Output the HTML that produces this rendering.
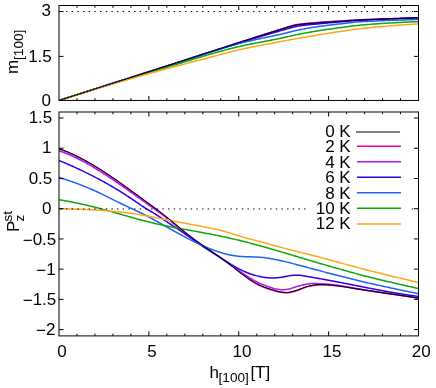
<!DOCTYPE html>
<html><head><meta charset="utf-8"><title>plot</title>
<style>
html,body{margin:0;padding:0;background:#fff;}
svg{display:block;}
body{will-change:transform;}
svg{filter:opacity(0.9999);}
text{font-family:"Liberation Sans",sans-serif;fill:#000;}
</style></head><body>
<svg width="436" height="388" viewBox="0 0 436 388">
<rect width="436" height="388" fill="#fff"/>

<defs><clipPath id="ct"><rect x="59.0" y="5.5" width="359.5" height="94.95"/></clipPath>
<clipPath id="cb"><rect x="59.0" y="112.0" width="359.5" height="223.89999999999998"/></clipPath></defs>
<g clip-path="url(#ct)" fill="none" stroke-linejoin="round">
<path d="M59.0,100.45 L60.0,100.13 L61.0,99.81 L62.0,99.49 L63.0,99.17 L64.0,98.85 L65.0,98.53 L66.0,98.22 L67.0,97.90 L68.0,97.58 L69.0,97.26 L70.0,96.94 L71.0,96.62 L72.0,96.30 L73.0,95.98 L74.0,95.66 L75.0,95.34 L76.0,95.02 L77.0,94.70 L78.0,94.38 L79.0,94.06 L80.0,93.74 L81.0,93.43 L82.0,93.11 L83.0,92.79 L84.0,92.47 L85.0,92.15 L86.0,91.83 L87.0,91.51 L88.0,91.19 L89.0,90.87 L90.0,90.55 L91.0,90.23 L92.0,89.91 L93.0,89.59 L94.0,89.27 L95.0,88.95 L96.0,88.63 L97.0,88.31 L98.0,87.99 L99.0,87.67 L100.0,87.35 L101.0,87.03 L102.0,86.71 L103.0,86.39 L104.0,86.07 L105.0,85.75 L106.0,85.43 L107.0,85.11 L108.0,84.79 L109.0,84.47 L110.0,84.15 L111.0,83.83 L112.0,83.51 L113.0,83.19 L114.0,82.87 L115.0,82.55 L116.0,82.23 L117.0,81.91 L118.0,81.59 L119.0,81.27 L120.0,80.95 L121.0,80.63 L122.0,80.31 L123.0,79.99 L124.0,79.67 L125.0,79.35 L126.0,79.03 L127.0,78.71 L128.0,78.39 L129.0,78.07 L130.0,77.75 L131.0,77.43 L132.0,77.11 L133.0,76.79 L134.0,76.47 L135.0,76.15 L136.0,75.83 L137.0,75.51 L138.0,75.19 L139.0,74.87 L140.0,74.54 L141.0,74.22 L142.0,73.90 L143.0,73.58 L144.0,73.26 L145.0,72.94 L146.0,72.62 L147.0,72.30 L148.0,71.98 L149.0,71.66 L150.0,71.34 L151.0,71.02 L152.0,70.70 L153.0,70.38 L154.0,70.06 L155.0,69.73 L156.0,69.41 L157.0,69.09 L158.0,68.77 L159.0,68.45 L160.0,68.13 L161.0,67.81 L162.0,67.49 L163.0,67.17 L164.0,66.85 L165.0,66.52 L166.0,66.20 L167.0,65.88 L168.0,65.56 L169.0,65.24 L170.0,64.91 L171.0,64.59 L172.0,64.27 L173.0,63.95 L174.0,63.63 L175.0,63.30 L176.0,62.98 L177.0,62.66 L178.0,62.33 L179.0,62.01 L180.0,61.69 L181.0,61.37 L182.0,61.04 L183.0,60.72 L184.0,60.40 L185.0,60.07 L186.0,59.75 L187.0,59.43 L188.0,59.10 L189.0,58.78 L190.0,58.45 L191.0,58.13 L192.0,57.81 L193.0,57.48 L194.0,57.16 L195.0,56.84 L196.0,56.51 L197.0,56.19 L198.0,55.86 L199.0,55.54 L200.0,55.22 L201.0,54.89 L202.0,54.57 L203.0,54.24 L204.0,53.92 L205.0,53.60 L206.0,53.27 L207.0,52.95 L208.0,52.62 L209.0,52.30 L210.0,51.98 L211.0,51.65 L212.0,51.33 L213.0,51.00 L214.0,50.68 L215.0,50.36 L216.0,50.03 L217.0,49.71 L218.0,49.39 L219.0,49.06 L220.0,48.74 L221.0,48.41 L222.0,48.09 L223.0,47.77 L224.0,47.44 L225.0,47.12 L226.0,46.80 L227.0,46.47 L228.0,46.15 L229.0,45.83 L230.0,45.50 L231.0,45.18 L232.0,44.86 L233.0,44.53 L234.0,44.21 L235.0,43.89 L236.0,43.57 L237.0,43.24 L238.0,42.92 L239.0,42.60 L240.0,42.28 L241.0,41.95 L242.0,41.63 L243.0,41.31 L244.0,40.99 L245.0,40.67 L246.0,40.34 L247.0,40.02 L248.0,39.70 L249.0,39.38 L250.0,39.06 L251.0,38.74 L252.0,38.42 L253.0,38.10 L254.0,37.78 L255.0,37.46 L256.0,37.14 L257.0,36.82 L258.0,36.50 L259.0,36.18 L260.0,35.86 L261.0,35.54 L262.0,35.22 L263.0,34.90 L264.0,34.58 L265.0,34.26 L266.0,33.94 L267.0,33.62 L268.0,33.30 L269.0,32.99 L270.0,32.67 L271.0,32.35 L272.0,32.03 L273.0,31.72 L274.0,31.40 L275.0,31.08 L276.0,30.76 L277.0,30.45 L278.0,30.13 L279.0,29.82 L280.0,29.50 L281.0,29.18 L282.0,28.87 L283.0,28.55 L284.0,28.24 L285.0,27.93 L286.0,27.62 L287.0,27.31 L288.0,27.00 L289.0,26.69 L290.0,26.37 L291.0,26.07 L292.0,25.77 L293.0,25.50 L294.0,25.25 L295.0,25.01 L296.0,24.79 L297.0,24.60 L298.0,24.43 L299.0,24.28 L300.0,24.14 L301.0,24.02 L302.0,23.90 L303.0,23.79 L304.0,23.68 L305.0,23.58 L306.0,23.48 L307.0,23.38 L308.0,23.28 L309.0,23.19 L310.0,23.10 L311.0,23.01 L312.0,22.93 L313.0,22.85 L314.0,22.76 L315.0,22.68 L316.0,22.61 L317.0,22.53 L318.0,22.45 L319.0,22.38 L320.0,22.30 L321.0,22.23 L322.0,22.15 L323.0,22.08 L324.0,22.01 L325.0,21.94 L326.0,21.88 L327.0,21.81 L328.0,21.75 L329.0,21.68 L330.0,21.62 L331.0,21.55 L332.0,21.49 L333.0,21.43 L334.0,21.37 L335.0,21.31 L336.0,21.25 L337.0,21.19 L338.0,21.12 L339.0,21.06 L340.0,21.00 L341.0,20.94 L342.0,20.87 L343.0,20.81 L344.0,20.74 L345.0,20.68 L346.0,20.61 L347.0,20.55 L348.0,20.49 L349.0,20.42 L350.0,20.36 L351.0,20.29 L352.0,20.23 L353.0,20.17 L354.0,20.11 L355.0,20.06 L356.0,20.00 L357.0,19.95 L358.0,19.90 L359.0,19.85 L360.0,19.80 L361.0,19.76 L362.0,19.71 L363.0,19.67 L364.0,19.63 L365.0,19.59 L366.0,19.55 L367.0,19.51 L368.0,19.48 L369.0,19.44 L370.0,19.41 L371.0,19.37 L372.0,19.34 L373.0,19.30 L374.0,19.27 L375.0,19.24 L376.0,19.20 L377.0,19.17 L378.0,19.14 L379.0,19.10 L380.0,19.07 L381.0,19.04 L382.0,19.00 L383.0,18.97 L384.0,18.94 L385.0,18.90 L386.0,18.86 L387.0,18.83 L388.0,18.79 L389.0,18.76 L390.0,18.72 L391.0,18.69 L392.0,18.65 L393.0,18.62 L394.0,18.58 L395.0,18.54 L396.0,18.51 L397.0,18.47 L398.0,18.44 L399.0,18.40 L400.0,18.37 L401.0,18.33 L402.0,18.30 L403.0,18.26 L404.0,18.23 L405.0,18.19 L406.0,18.16 L407.0,18.12 L408.0,18.09 L409.0,18.05 L410.0,18.02 L411.0,17.98 L412.0,17.94 L413.0,17.91 L414.0,17.87 L415.0,17.84 L416.0,17.80 L417.0,17.77 L418.0,17.73" stroke="#ee00a6" stroke-width="1.5"/>
<path d="M59.0,100.45 L60.0,100.13 L61.0,99.81 L62.0,99.49 L63.0,99.17 L64.0,98.85 L65.0,98.53 L66.0,98.21 L67.0,97.89 L68.0,97.57 L69.0,97.25 L70.0,96.93 L71.0,96.62 L72.0,96.30 L73.0,95.98 L74.0,95.66 L75.0,95.34 L76.0,95.02 L77.0,94.70 L78.0,94.38 L79.0,94.06 L80.0,93.74 L81.0,93.42 L82.0,93.10 L83.0,92.78 L84.0,92.46 L85.0,92.14 L86.0,91.82 L87.0,91.50 L88.0,91.18 L89.0,90.86 L90.0,90.54 L91.0,90.22 L92.0,89.90 L93.0,89.58 L94.0,89.26 L95.0,88.94 L96.0,88.62 L97.0,88.30 L98.0,87.98 L99.0,87.66 L100.0,87.34 L101.0,87.02 L102.0,86.70 L103.0,86.38 L104.0,86.06 L105.0,85.74 L106.0,85.42 L107.0,85.10 L108.0,84.78 L109.0,84.46 L110.0,84.14 L111.0,83.82 L112.0,83.50 L113.0,83.18 L114.0,82.86 L115.0,82.54 L116.0,82.22 L117.0,81.90 L118.0,81.58 L119.0,81.26 L120.0,80.94 L121.0,80.62 L122.0,80.30 L123.0,79.98 L124.0,79.66 L125.0,79.34 L126.0,79.02 L127.0,78.70 L128.0,78.38 L129.0,78.06 L130.0,77.74 L131.0,77.42 L132.0,77.10 L133.0,76.78 L134.0,76.46 L135.0,76.14 L136.0,75.82 L137.0,75.50 L138.0,75.18 L139.0,74.86 L140.0,74.54 L141.0,74.22 L142.0,73.90 L143.0,73.58 L144.0,73.26 L145.0,72.94 L146.0,72.62 L147.0,72.30 L148.0,71.98 L149.0,71.66 L150.0,71.33 L151.0,71.01 L152.0,70.69 L153.0,70.37 L154.0,70.05 L155.0,69.73 L156.0,69.41 L157.0,69.09 L158.0,68.77 L159.0,68.45 L160.0,68.13 L161.0,67.81 L162.0,67.49 L163.0,67.17 L164.0,66.85 L165.0,66.52 L166.0,66.20 L167.0,65.88 L168.0,65.56 L169.0,65.24 L170.0,64.91 L171.0,64.59 L172.0,64.27 L173.0,63.94 L174.0,63.62 L175.0,63.30 L176.0,62.97 L177.0,62.65 L178.0,62.33 L179.0,62.00 L180.0,61.68 L181.0,61.35 L182.0,61.03 L183.0,60.70 L184.0,60.38 L185.0,60.05 L186.0,59.73 L187.0,59.40 L188.0,59.08 L189.0,58.75 L190.0,58.43 L191.0,58.10 L192.0,57.78 L193.0,57.45 L194.0,57.13 L195.0,56.80 L196.0,56.48 L197.0,56.15 L198.0,55.82 L199.0,55.50 L200.0,55.17 L201.0,54.85 L202.0,54.52 L203.0,54.20 L204.0,53.87 L205.0,53.54 L206.0,53.22 L207.0,52.89 L208.0,52.57 L209.0,52.24 L210.0,51.92 L211.0,51.59 L212.0,51.26 L213.0,50.94 L214.0,50.61 L215.0,50.29 L216.0,49.96 L217.0,49.64 L218.0,49.31 L219.0,48.99 L220.0,48.66 L221.0,48.34 L222.0,48.02 L223.0,47.69 L224.0,47.37 L225.0,47.04 L226.0,46.72 L227.0,46.39 L228.0,46.07 L229.0,45.75 L230.0,45.42 L231.0,45.10 L232.0,44.78 L233.0,44.45 L234.0,44.13 L235.0,43.81 L236.0,43.49 L237.0,43.17 L238.0,42.84 L239.0,42.52 L240.0,42.20 L241.0,41.88 L242.0,41.56 L243.0,41.24 L244.0,40.92 L245.0,40.60 L246.0,40.28 L247.0,39.96 L248.0,39.64 L249.0,39.32 L250.0,39.00 L251.0,38.68 L252.0,38.36 L253.0,38.05 L254.0,37.73 L255.0,37.41 L256.0,37.09 L257.0,36.78 L258.0,36.46 L259.0,36.15 L260.0,35.83 L261.0,35.51 L262.0,35.20 L263.0,34.88 L264.0,34.57 L265.0,34.26 L266.0,33.94 L267.0,33.63 L268.0,33.32 L269.0,33.01 L270.0,32.69 L271.0,32.38 L272.0,32.07 L273.0,31.76 L274.0,31.45 L275.0,31.14 L276.0,30.83 L277.0,30.52 L278.0,30.22 L279.0,29.91 L280.0,29.60 L281.0,29.29 L282.0,28.99 L283.0,28.68 L284.0,28.38 L285.0,28.08 L286.0,27.78 L287.0,27.49 L288.0,27.20 L289.0,26.91 L290.0,26.62 L291.0,26.33 L292.0,26.06 L293.0,25.80 L294.0,25.55 L295.0,25.31 L296.0,25.09 L297.0,24.90 L298.0,24.73 L299.0,24.58 L300.0,24.44 L301.0,24.32 L302.0,24.20 L303.0,24.09 L304.0,23.98 L305.0,23.88 L306.0,23.78 L307.0,23.68 L308.0,23.59 L309.0,23.50 L310.0,23.41 L311.0,23.32 L312.0,23.24 L313.0,23.15 L314.0,23.07 L315.0,22.99 L316.0,22.91 L317.0,22.83 L318.0,22.76 L319.0,22.68 L320.0,22.60 L321.0,22.52 L322.0,22.45 L323.0,22.37 L324.0,22.29 L325.0,22.22 L326.0,22.15 L327.0,22.08 L328.0,22.01 L329.0,21.93 L330.0,21.87 L331.0,21.80 L332.0,21.73 L333.0,21.66 L334.0,21.59 L335.0,21.53 L336.0,21.46 L337.0,21.40 L338.0,21.33 L339.0,21.26 L340.0,21.20 L341.0,21.14 L342.0,21.07 L343.0,21.01 L344.0,20.94 L345.0,20.88 L346.0,20.81 L347.0,20.75 L348.0,20.68 L349.0,20.62 L350.0,20.56 L351.0,20.50 L352.0,20.44 L353.0,20.38 L354.0,20.32 L355.0,20.26 L356.0,20.21 L357.0,20.15 L358.0,20.10 L359.0,20.05 L360.0,20.00 L361.0,19.95 L362.0,19.91 L363.0,19.86 L364.0,19.82 L365.0,19.77 L366.0,19.73 L367.0,19.69 L368.0,19.65 L369.0,19.61 L370.0,19.57 L371.0,19.53 L372.0,19.49 L373.0,19.45 L374.0,19.41 L375.0,19.38 L376.0,19.34 L377.0,19.30 L378.0,19.27 L379.0,19.23 L380.0,19.19 L381.0,19.15 L382.0,19.12 L383.0,19.08 L384.0,19.04 L385.0,19.00 L386.0,18.96 L387.0,18.92 L388.0,18.88 L389.0,18.84 L390.0,18.80 L391.0,18.77 L392.0,18.73 L393.0,18.69 L394.0,18.65 L395.0,18.61 L396.0,18.57 L397.0,18.53 L398.0,18.50 L399.0,18.46 L400.0,18.42 L401.0,18.38 L402.0,18.34 L403.0,18.30 L404.0,18.27 L405.0,18.23 L406.0,18.19 L407.0,18.15 L408.0,18.11 L409.0,18.08 L410.0,18.04 L411.0,18.00 L412.0,17.96 L413.0,17.92 L414.0,17.89 L415.0,17.85 L416.0,17.81 L417.0,17.77 L418.0,17.74" stroke="#a31cf2" stroke-width="1.5"/>
<path d="M59.0,100.45 L60.0,100.13 L61.0,99.81 L62.0,99.50 L63.0,99.18 L64.0,98.86 L65.0,98.54 L66.0,98.22 L67.0,97.91 L68.0,97.59 L69.0,97.27 L70.0,96.95 L71.0,96.63 L72.0,96.32 L73.0,96.00 L74.0,95.68 L75.0,95.36 L76.0,95.04 L77.0,94.73 L78.0,94.41 L79.0,94.09 L80.0,93.77 L81.0,93.45 L82.0,93.14 L83.0,92.82 L84.0,92.50 L85.0,92.18 L86.0,91.86 L87.0,91.55 L88.0,91.23 L89.0,90.91 L90.0,90.59 L91.0,90.27 L92.0,89.96 L93.0,89.64 L94.0,89.32 L95.0,89.00 L96.0,88.68 L97.0,88.37 L98.0,88.05 L99.0,87.73 L100.0,87.41 L101.0,87.09 L102.0,86.78 L103.0,86.46 L104.0,86.14 L105.0,85.82 L106.0,85.50 L107.0,85.19 L108.0,84.87 L109.0,84.55 L110.0,84.23 L111.0,83.91 L112.0,83.60 L113.0,83.28 L114.0,82.96 L115.0,82.64 L116.0,82.32 L117.0,82.01 L118.0,81.69 L119.0,81.37 L120.0,81.05 L121.0,80.73 L122.0,80.42 L123.0,80.10 L124.0,79.78 L125.0,79.46 L126.0,79.14 L127.0,78.83 L128.0,78.51 L129.0,78.19 L130.0,77.87 L131.0,77.55 L132.0,77.24 L133.0,76.92 L134.0,76.60 L135.0,76.28 L136.0,75.96 L137.0,75.65 L138.0,75.33 L139.0,75.01 L140.0,74.69 L141.0,74.37 L142.0,74.06 L143.0,73.74 L144.0,73.42 L145.0,73.10 L146.0,72.78 L147.0,72.47 L148.0,72.15 L149.0,71.83 L150.0,71.51 L151.0,71.19 L152.0,70.88 L153.0,70.56 L154.0,70.24 L155.0,69.92 L156.0,69.60 L157.0,69.29 L158.0,68.97 L159.0,68.65 L160.0,68.33 L161.0,68.01 L162.0,67.70 L163.0,67.38 L164.0,67.06 L165.0,66.74 L166.0,66.42 L167.0,66.10 L168.0,65.78 L169.0,65.46 L170.0,65.14 L171.0,64.82 L172.0,64.50 L173.0,64.18 L174.0,63.86 L175.0,63.54 L176.0,63.22 L177.0,62.90 L178.0,62.58 L179.0,62.25 L180.0,61.93 L181.0,61.61 L182.0,61.29 L183.0,60.97 L184.0,60.65 L185.0,60.33 L186.0,60.00 L187.0,59.68 L188.0,59.36 L189.0,59.04 L190.0,58.72 L191.0,58.40 L192.0,58.08 L193.0,57.76 L194.0,57.43 L195.0,57.11 L196.0,56.79 L197.0,56.47 L198.0,56.15 L199.0,55.83 L200.0,55.51 L201.0,55.19 L202.0,54.87 L203.0,54.55 L204.0,54.23 L205.0,53.91 L206.0,53.59 L207.0,53.27 L208.0,52.95 L209.0,52.63 L210.0,52.31 L211.0,51.99 L212.0,51.67 L213.0,51.36 L214.0,51.04 L215.0,50.72 L216.0,50.40 L217.0,50.08 L218.0,49.77 L219.0,49.45 L220.0,49.14 L221.0,48.82 L222.0,48.50 L223.0,48.19 L224.0,47.87 L225.0,47.56 L226.0,47.25 L227.0,46.93 L228.0,46.62 L229.0,46.31 L230.0,45.99 L231.0,45.68 L232.0,45.37 L233.0,45.06 L234.0,44.75 L235.0,44.44 L236.0,44.13 L237.0,43.82 L238.0,43.51 L239.0,43.20 L240.0,42.89 L241.0,42.58 L242.0,42.28 L243.0,41.97 L244.0,41.66 L245.0,41.35 L246.0,41.04 L247.0,40.73 L248.0,40.42 L249.0,40.11 L250.0,39.80 L251.0,39.49 L252.0,39.18 L253.0,38.87 L254.0,38.56 L255.0,38.26 L256.0,37.95 L257.0,37.64 L258.0,37.33 L259.0,37.03 L260.0,36.72 L261.0,36.42 L262.0,36.12 L263.0,35.81 L264.0,35.51 L265.0,35.21 L266.0,34.91 L267.0,34.62 L268.0,34.32 L269.0,34.03 L270.0,33.73 L271.0,33.44 L272.0,33.15 L273.0,32.86 L274.0,32.58 L275.0,32.29 L276.0,32.01 L277.0,31.73 L278.0,31.45 L279.0,31.17 L280.0,30.90 L281.0,30.62 L282.0,30.34 L283.0,30.06 L284.0,29.77 L285.0,29.47 L286.0,29.18 L287.0,28.89 L288.0,28.60 L289.0,28.32 L290.0,28.04 L291.0,27.77 L292.0,27.50 L293.0,27.24 L294.0,26.99 L295.0,26.76 L296.0,26.54 L297.0,26.33 L298.0,26.13 L299.0,25.96 L300.0,25.80 L301.0,25.66 L302.0,25.52 L303.0,25.39 L304.0,25.26 L305.0,25.14 L306.0,25.03 L307.0,24.92 L308.0,24.82 L309.0,24.72 L310.0,24.62 L311.0,24.53 L312.0,24.43 L313.0,24.34 L314.0,24.25 L315.0,24.16 L316.0,24.07 L317.0,23.98 L318.0,23.89 L319.0,23.80 L320.0,23.70 L321.0,23.60 L322.0,23.51 L323.0,23.41 L324.0,23.32 L325.0,23.23 L326.0,23.13 L327.0,23.04 L328.0,22.95 L329.0,22.86 L330.0,22.77 L331.0,22.68 L332.0,22.59 L333.0,22.50 L334.0,22.42 L335.0,22.33 L336.0,22.24 L337.0,22.16 L338.0,22.07 L339.0,21.98 L340.0,21.90 L341.0,21.81 L342.0,21.73 L343.0,21.64 L344.0,21.55 L345.0,21.47 L346.0,21.38 L347.0,21.29 L348.0,21.20 L349.0,21.12 L350.0,21.03 L351.0,20.95 L352.0,20.87 L353.0,20.79 L354.0,20.71 L355.0,20.63 L356.0,20.56 L357.0,20.49 L358.0,20.42 L359.0,20.36 L360.0,20.30 L361.0,20.24 L362.0,20.19 L363.0,20.14 L364.0,20.08 L365.0,20.03 L366.0,19.99 L367.0,19.94 L368.0,19.89 L369.0,19.85 L370.0,19.80 L371.0,19.76 L372.0,19.72 L373.0,19.68 L374.0,19.64 L375.0,19.60 L376.0,19.56 L377.0,19.52 L378.0,19.48 L379.0,19.44 L380.0,19.40 L381.0,19.36 L382.0,19.32 L383.0,19.28 L384.0,19.24 L385.0,19.20 L386.0,19.16 L387.0,19.12 L388.0,19.08 L389.0,19.04 L390.0,19.00 L391.0,18.96 L392.0,18.92 L393.0,18.88 L394.0,18.84 L395.0,18.80 L396.0,18.76 L397.0,18.72 L398.0,18.68 L399.0,18.64 L400.0,18.60 L401.0,18.56 L402.0,18.52 L403.0,18.49 L404.0,18.45 L405.0,18.41 L406.0,18.37 L407.0,18.33 L408.0,18.30 L409.0,18.26 L410.0,18.22 L411.0,18.19 L412.0,18.15 L413.0,18.11 L414.0,18.08 L415.0,18.04 L416.0,18.01 L417.0,17.97 L418.0,17.94" stroke="#2e00e6" stroke-width="1.5"/>
<path d="M59.0,100.45 L60.0,100.13 L61.0,99.81 L62.0,99.49 L63.0,99.17 L64.0,98.85 L65.0,98.53 L66.0,98.21 L67.0,97.89 L68.0,97.56 L69.0,97.24 L70.0,96.92 L71.0,96.60 L72.0,96.28 L73.0,95.96 L74.0,95.64 L75.0,95.32 L76.0,95.00 L77.0,94.68 L78.0,94.36 L79.0,94.04 L80.0,93.73 L81.0,93.41 L82.0,93.09 L83.0,92.77 L84.0,92.45 L85.0,92.13 L86.0,91.81 L87.0,91.49 L88.0,91.17 L89.0,90.85 L90.0,90.53 L91.0,90.21 L92.0,89.89 L93.0,89.58 L94.0,89.26 L95.0,88.94 L96.0,88.62 L97.0,88.30 L98.0,87.98 L99.0,87.66 L100.0,87.34 L101.0,87.03 L102.0,86.71 L103.0,86.39 L104.0,86.07 L105.0,85.75 L106.0,85.43 L107.0,85.12 L108.0,84.80 L109.0,84.48 L110.0,84.16 L111.0,83.84 L112.0,83.53 L113.0,83.21 L114.0,82.89 L115.0,82.57 L116.0,82.26 L117.0,81.94 L118.0,81.62 L119.0,81.30 L120.0,80.99 L121.0,80.67 L122.0,80.35 L123.0,80.03 L124.0,79.72 L125.0,79.40 L126.0,79.08 L127.0,78.77 L128.0,78.45 L129.0,78.13 L130.0,77.81 L131.0,77.50 L132.0,77.18 L133.0,76.86 L134.0,76.55 L135.0,76.23 L136.0,75.91 L137.0,75.60 L138.0,75.28 L139.0,74.96 L140.0,74.65 L141.0,74.33 L142.0,74.02 L143.0,73.70 L144.0,73.38 L145.0,73.07 L146.0,72.75 L147.0,72.44 L148.0,72.12 L149.0,71.80 L150.0,71.49 L151.0,71.17 L152.0,70.86 L153.0,70.54 L154.0,70.22 L155.0,69.91 L156.0,69.59 L157.0,69.28 L158.0,68.96 L159.0,68.65 L160.0,68.33 L161.0,68.02 L162.0,67.70 L163.0,67.38 L164.0,67.06 L165.0,66.74 L166.0,66.42 L167.0,66.10 L168.0,65.77 L169.0,65.45 L170.0,65.12 L171.0,64.80 L172.0,64.47 L173.0,64.14 L174.0,63.81 L175.0,63.48 L176.0,63.15 L177.0,62.82 L178.0,62.49 L179.0,62.16 L180.0,61.83 L181.0,61.50 L182.0,61.17 L183.0,60.84 L184.0,60.50 L185.0,60.17 L186.0,59.84 L187.0,59.51 L188.0,59.17 L189.0,58.84 L190.0,58.51 L191.0,58.18 L192.0,57.85 L193.0,57.52 L194.0,57.19 L195.0,56.86 L196.0,56.53 L197.0,56.20 L198.0,55.87 L199.0,55.54 L200.0,55.22 L201.0,54.89 L202.0,54.56 L203.0,54.24 L204.0,53.92 L205.0,53.59 L206.0,53.27 L207.0,52.95 L208.0,52.63 L209.0,52.31 L210.0,51.99 L211.0,51.68 L212.0,51.36 L213.0,51.05 L214.0,50.74 L215.0,50.43 L216.0,50.12 L217.0,49.81 L218.0,49.51 L219.0,49.20 L220.0,48.90 L221.0,48.60 L222.0,48.30 L223.0,48.00 L224.0,47.71 L225.0,47.42 L226.0,47.13 L227.0,46.84 L228.0,46.55 L229.0,46.27 L230.0,45.99 L231.0,45.71 L232.0,45.43 L233.0,45.15 L234.0,44.88 L235.0,44.61 L236.0,44.34 L237.0,44.08 L238.0,43.82 L239.0,43.56 L240.0,43.30 L241.0,43.05 L242.0,42.80 L243.0,42.55 L244.0,42.31 L245.0,42.07 L246.0,41.83 L247.0,41.59 L248.0,41.36 L249.0,41.13 L250.0,40.90 L251.0,40.68 L252.0,40.45 L253.0,40.23 L254.0,40.01 L255.0,39.79 L256.0,39.58 L257.0,39.36 L258.0,39.15 L259.0,38.93 L260.0,38.72 L261.0,38.51 L262.0,38.30 L263.0,38.08 L264.0,37.87 L265.0,37.66 L266.0,37.45 L267.0,37.24 L268.0,37.03 L269.0,36.81 L270.0,36.60 L271.0,36.39 L272.0,36.17 L273.0,35.96 L274.0,35.74 L275.0,35.52 L276.0,35.30 L277.0,35.08 L278.0,34.85 L279.0,34.63 L280.0,34.40 L281.0,34.17 L282.0,33.93 L283.0,33.69 L284.0,33.45 L285.0,33.21 L286.0,32.96 L287.0,32.71 L288.0,32.46 L289.0,32.22 L290.0,31.97 L291.0,31.73 L292.0,31.48 L293.0,31.24 L294.0,31.01 L295.0,30.77 L296.0,30.55 L297.0,30.33 L298.0,30.11 L299.0,29.90 L300.0,29.70 L301.0,29.50 L302.0,29.31 L303.0,29.12 L304.0,28.93 L305.0,28.75 L306.0,28.56 L307.0,28.38 L308.0,28.21 L309.0,28.03 L310.0,27.86 L311.0,27.69 L312.0,27.52 L313.0,27.36 L314.0,27.20 L315.0,27.04 L316.0,26.89 L317.0,26.74 L318.0,26.59 L319.0,26.44 L320.0,26.30 L321.0,26.16 L322.0,26.03 L323.0,25.89 L324.0,25.76 L325.0,25.63 L326.0,25.51 L327.0,25.39 L328.0,25.27 L329.0,25.15 L330.0,25.03 L331.0,24.91 L332.0,24.80 L333.0,24.68 L334.0,24.57 L335.0,24.46 L336.0,24.35 L337.0,24.23 L338.0,24.12 L339.0,24.01 L340.0,23.90 L341.0,23.79 L342.0,23.67 L343.0,23.56 L344.0,23.44 L345.0,23.32 L346.0,23.20 L347.0,23.08 L348.0,22.97 L349.0,22.85 L350.0,22.74 L351.0,22.63 L352.0,22.52 L353.0,22.41 L354.0,22.31 L355.0,22.21 L356.0,22.12 L357.0,22.03 L358.0,21.95 L359.0,21.87 L360.0,21.80 L361.0,21.73 L362.0,21.67 L363.0,21.61 L364.0,21.55 L365.0,21.49 L366.0,21.44 L367.0,21.38 L368.0,21.33 L369.0,21.28 L370.0,21.23 L371.0,21.18 L372.0,21.14 L373.0,21.09 L374.0,21.05 L375.0,21.00 L376.0,20.96 L377.0,20.92 L378.0,20.88 L379.0,20.84 L380.0,20.80 L381.0,20.76 L382.0,20.72 L383.0,20.68 L384.0,20.64 L385.0,20.60 L386.0,20.56 L387.0,20.52 L388.0,20.48 L389.0,20.45 L390.0,20.41 L391.0,20.37 L392.0,20.33 L393.0,20.30 L394.0,20.26 L395.0,20.22 L396.0,20.19 L397.0,20.15 L398.0,20.12 L399.0,20.08 L400.0,20.05 L401.0,20.02 L402.0,19.98 L403.0,19.95 L404.0,19.92 L405.0,19.89 L406.0,19.86 L407.0,19.82 L408.0,19.79 L409.0,19.76 L410.0,19.74 L411.0,19.71 L412.0,19.68 L413.0,19.65 L414.0,19.62 L415.0,19.60 L416.0,19.57 L417.0,19.55 L418.0,19.52" stroke="#1f63f5" stroke-width="1.5"/>
<path d="M59.0,100.45 L60.0,100.13 L61.0,99.81 L62.0,99.49 L63.0,99.17 L64.0,98.85 L65.0,98.54 L66.0,98.22 L67.0,97.90 L68.0,97.58 L69.0,97.26 L70.0,96.95 L71.0,96.63 L72.0,96.31 L73.0,96.00 L74.0,95.68 L75.0,95.36 L76.0,95.05 L77.0,94.73 L78.0,94.42 L79.0,94.10 L80.0,93.79 L81.0,93.47 L82.0,93.16 L83.0,92.84 L84.0,92.53 L85.0,92.22 L86.0,91.90 L87.0,91.59 L88.0,91.28 L89.0,90.96 L90.0,90.65 L91.0,90.34 L92.0,90.03 L93.0,89.71 L94.0,89.40 L95.0,89.09 L96.0,88.78 L97.0,88.47 L98.0,88.16 L99.0,87.85 L100.0,87.54 L101.0,87.23 L102.0,86.92 L103.0,86.61 L104.0,86.30 L105.0,85.99 L106.0,85.68 L107.0,85.37 L108.0,85.06 L109.0,84.76 L110.0,84.45 L111.0,84.14 L112.0,83.83 L113.0,83.53 L114.0,83.22 L115.0,82.91 L116.0,82.61 L117.0,82.30 L118.0,81.99 L119.0,81.69 L120.0,81.38 L121.0,81.08 L122.0,80.77 L123.0,80.47 L124.0,80.16 L125.0,79.86 L126.0,79.55 L127.0,79.25 L128.0,78.95 L129.0,78.64 L130.0,78.34 L131.0,78.04 L132.0,77.73 L133.0,77.43 L134.0,77.13 L135.0,76.83 L136.0,76.52 L137.0,76.22 L138.0,75.92 L139.0,75.62 L140.0,75.32 L141.0,75.02 L142.0,74.72 L143.0,74.42 L144.0,74.12 L145.0,73.82 L146.0,73.52 L147.0,73.22 L148.0,72.92 L149.0,72.62 L150.0,72.32 L151.0,72.02 L152.0,71.72 L153.0,71.42 L154.0,71.13 L155.0,70.83 L156.0,70.53 L157.0,70.23 L158.0,69.94 L159.0,69.64 L160.0,69.34 L161.0,69.04 L162.0,68.75 L163.0,68.45 L164.0,68.15 L165.0,67.85 L166.0,67.55 L167.0,67.25 L168.0,66.94 L169.0,66.64 L170.0,66.34 L171.0,66.03 L172.0,65.73 L173.0,65.43 L174.0,65.12 L175.0,64.82 L176.0,64.51 L177.0,64.20 L178.0,63.90 L179.0,63.59 L180.0,63.29 L181.0,62.98 L182.0,62.68 L183.0,62.37 L184.0,62.06 L185.0,61.76 L186.0,61.45 L187.0,61.15 L188.0,60.84 L189.0,60.54 L190.0,60.23 L191.0,59.93 L192.0,59.62 L193.0,59.32 L194.0,59.02 L195.0,58.72 L196.0,58.41 L197.0,58.11 L198.0,57.81 L199.0,57.51 L200.0,57.22 L201.0,56.92 L202.0,56.62 L203.0,56.32 L204.0,56.03 L205.0,55.74 L206.0,55.44 L207.0,55.15 L208.0,54.86 L209.0,54.57 L210.0,54.28 L211.0,53.99 L212.0,53.71 L213.0,53.42 L214.0,53.14 L215.0,52.86 L216.0,52.58 L217.0,52.30 L218.0,52.02 L219.0,51.75 L220.0,51.47 L221.0,51.20 L222.0,50.93 L223.0,50.66 L224.0,50.39 L225.0,50.13 L226.0,49.86 L227.0,49.60 L228.0,49.34 L229.0,49.09 L230.0,48.83 L231.0,48.58 L232.0,48.33 L233.0,48.08 L234.0,47.83 L235.0,47.59 L236.0,47.34 L237.0,47.10 L238.0,46.87 L239.0,46.63 L240.0,46.40 L241.0,46.17 L242.0,45.94 L243.0,45.72 L244.0,45.50 L245.0,45.29 L246.0,45.07 L247.0,44.86 L248.0,44.65 L249.0,44.45 L250.0,44.25 L251.0,44.04 L252.0,43.84 L253.0,43.65 L254.0,43.45 L255.0,43.26 L256.0,43.06 L257.0,42.87 L258.0,42.68 L259.0,42.49 L260.0,42.30 L261.0,42.11 L262.0,41.92 L263.0,41.73 L264.0,41.54 L265.0,41.35 L266.0,41.16 L267.0,40.97 L268.0,40.78 L269.0,40.59 L270.0,40.40 L271.0,40.21 L272.0,40.01 L273.0,39.82 L274.0,39.62 L275.0,39.42 L276.0,39.22 L277.0,39.02 L278.0,38.82 L279.0,38.61 L280.0,38.40 L281.0,38.19 L282.0,37.97 L283.0,37.75 L284.0,37.53 L285.0,37.30 L286.0,37.08 L287.0,36.85 L288.0,36.62 L289.0,36.39 L290.0,36.16 L291.0,35.93 L292.0,35.71 L293.0,35.48 L294.0,35.26 L295.0,35.04 L296.0,34.82 L297.0,34.61 L298.0,34.40 L299.0,34.20 L300.0,34.00 L301.0,33.81 L302.0,33.61 L303.0,33.42 L304.0,33.24 L305.0,33.05 L306.0,32.87 L307.0,32.69 L308.0,32.51 L309.0,32.33 L310.0,32.15 L311.0,31.98 L312.0,31.81 L313.0,31.64 L314.0,31.47 L315.0,31.30 L316.0,31.14 L317.0,30.98 L318.0,30.81 L319.0,30.66 L320.0,30.50 L321.0,30.35 L322.0,30.19 L323.0,30.04 L324.0,29.90 L325.0,29.75 L326.0,29.60 L327.0,29.46 L328.0,29.32 L329.0,29.18 L330.0,29.04 L331.0,28.90 L332.0,28.77 L333.0,28.63 L334.0,28.50 L335.0,28.36 L336.0,28.23 L337.0,28.10 L338.0,27.96 L339.0,27.83 L340.0,27.70 L341.0,27.57 L342.0,27.43 L343.0,27.30 L344.0,27.16 L345.0,27.03 L346.0,26.89 L347.0,26.76 L348.0,26.62 L349.0,26.49 L350.0,26.36 L351.0,26.23 L352.0,26.10 L353.0,25.98 L354.0,25.85 L355.0,25.74 L356.0,25.62 L357.0,25.51 L358.0,25.40 L359.0,25.30 L360.0,25.20 L361.0,25.11 L362.0,25.01 L363.0,24.92 L364.0,24.83 L365.0,24.75 L366.0,24.66 L367.0,24.58 L368.0,24.49 L369.0,24.41 L370.0,24.33 L371.0,24.26 L372.0,24.18 L373.0,24.11 L374.0,24.03 L375.0,23.96 L376.0,23.89 L377.0,23.82 L378.0,23.75 L379.0,23.68 L380.0,23.62 L381.0,23.55 L382.0,23.49 L383.0,23.42 L384.0,23.36 L385.0,23.30 L386.0,23.24 L387.0,23.18 L388.0,23.12 L389.0,23.06 L390.0,23.00 L391.0,22.94 L392.0,22.88 L393.0,22.83 L394.0,22.77 L395.0,22.71 L396.0,22.66 L397.0,22.60 L398.0,22.55 L399.0,22.50 L400.0,22.44 L401.0,22.39 L402.0,22.34 L403.0,22.29 L404.0,22.24 L405.0,22.19 L406.0,22.14 L407.0,22.09 L408.0,22.05 L409.0,22.00 L410.0,21.96 L411.0,21.91 L412.0,21.87 L413.0,21.83 L414.0,21.79 L415.0,21.75 L416.0,21.71 L417.0,21.67 L418.0,21.64" stroke="#0ea80e" stroke-width="1.5"/>
<path d="M59.0,100.45 L60.0,100.13 L61.0,99.81 L62.0,99.50 L63.0,99.18 L64.0,98.86 L65.0,98.55 L66.0,98.23 L67.0,97.92 L68.0,97.60 L69.0,97.29 L70.0,96.97 L71.0,96.66 L72.0,96.35 L73.0,96.04 L74.0,95.73 L75.0,95.42 L76.0,95.11 L77.0,94.80 L78.0,94.49 L79.0,94.18 L80.0,93.87 L81.0,93.56 L82.0,93.25 L83.0,92.95 L84.0,92.64 L85.0,92.34 L86.0,92.03 L87.0,91.72 L88.0,91.42 L89.0,91.12 L90.0,90.81 L91.0,90.51 L92.0,90.21 L93.0,89.90 L94.0,89.60 L95.0,89.30 L96.0,89.00 L97.0,88.70 L98.0,88.40 L99.0,88.10 L100.0,87.80 L101.0,87.50 L102.0,87.21 L103.0,86.91 L104.0,86.61 L105.0,86.31 L106.0,86.02 L107.0,85.72 L108.0,85.43 L109.0,85.13 L110.0,84.84 L111.0,84.54 L112.0,84.25 L113.0,83.95 L114.0,83.66 L115.0,83.37 L116.0,83.08 L117.0,82.78 L118.0,82.49 L119.0,82.20 L120.0,81.91 L121.0,81.62 L122.0,81.33 L123.0,81.04 L124.0,80.75 L125.0,80.46 L126.0,80.18 L127.0,79.89 L128.0,79.60 L129.0,79.31 L130.0,79.03 L131.0,78.74 L132.0,78.45 L133.0,78.17 L134.0,77.88 L135.0,77.60 L136.0,77.31 L137.0,77.03 L138.0,76.74 L139.0,76.46 L140.0,76.18 L141.0,75.89 L142.0,75.61 L143.0,75.33 L144.0,75.05 L145.0,74.77 L146.0,74.48 L147.0,74.20 L148.0,73.92 L149.0,73.64 L150.0,73.36 L151.0,73.08 L152.0,72.80 L153.0,72.52 L154.0,72.25 L155.0,71.97 L156.0,71.69 L157.0,71.41 L158.0,71.13 L159.0,70.86 L160.0,70.58 L161.0,70.30 L162.0,70.03 L163.0,69.75 L164.0,69.48 L165.0,69.20 L166.0,68.93 L167.0,68.65 L168.0,68.38 L169.0,68.11 L170.0,67.84 L171.0,67.57 L172.0,67.30 L173.0,67.04 L174.0,66.77 L175.0,66.51 L176.0,66.24 L177.0,65.98 L178.0,65.71 L179.0,65.45 L180.0,65.19 L181.0,64.93 L182.0,64.67 L183.0,64.41 L184.0,64.15 L185.0,63.89 L186.0,63.63 L187.0,63.37 L188.0,63.11 L189.0,62.85 L190.0,62.60 L191.0,62.34 L192.0,62.08 L193.0,61.82 L194.0,61.56 L195.0,61.30 L196.0,61.04 L197.0,60.78 L198.0,60.52 L199.0,60.26 L200.0,60.00 L201.0,59.74 L202.0,59.47 L203.0,59.21 L204.0,58.94 L205.0,58.68 L206.0,58.41 L207.0,58.14 L208.0,57.87 L209.0,57.60 L210.0,57.33 L211.0,57.05 L212.0,56.78 L213.0,56.51 L214.0,56.24 L215.0,55.97 L216.0,55.70 L217.0,55.42 L218.0,55.15 L219.0,54.88 L220.0,54.62 L221.0,54.35 L222.0,54.08 L223.0,53.81 L224.0,53.55 L225.0,53.29 L226.0,53.03 L227.0,52.77 L228.0,52.51 L229.0,52.25 L230.0,52.00 L231.0,51.75 L232.0,51.50 L233.0,51.25 L234.0,51.00 L235.0,50.76 L236.0,50.52 L237.0,50.29 L238.0,50.06 L239.0,49.83 L240.0,49.60 L241.0,49.38 L242.0,49.16 L243.0,48.94 L244.0,48.72 L245.0,48.51 L246.0,48.29 L247.0,48.08 L248.0,47.87 L249.0,47.67 L250.0,47.46 L251.0,47.26 L252.0,47.05 L253.0,46.85 L254.0,46.65 L255.0,46.45 L256.0,46.26 L257.0,46.06 L258.0,45.87 L259.0,45.67 L260.0,45.48 L261.0,45.29 L262.0,45.10 L263.0,44.91 L264.0,44.72 L265.0,44.53 L266.0,44.34 L267.0,44.15 L268.0,43.96 L269.0,43.77 L270.0,43.58 L271.0,43.40 L272.0,43.21 L273.0,43.02 L274.0,42.83 L275.0,42.65 L276.0,42.46 L277.0,42.27 L278.0,42.08 L279.0,41.89 L280.0,41.70 L281.0,41.51 L282.0,41.32 L283.0,41.13 L284.0,40.94 L285.0,40.75 L286.0,40.56 L287.0,40.38 L288.0,40.19 L289.0,40.00 L290.0,39.82 L291.0,39.63 L292.0,39.45 L293.0,39.26 L294.0,39.08 L295.0,38.90 L296.0,38.72 L297.0,38.54 L298.0,38.36 L299.0,38.18 L300.0,38.00 L301.0,37.82 L302.0,37.65 L303.0,37.47 L304.0,37.30 L305.0,37.12 L306.0,36.95 L307.0,36.78 L308.0,36.60 L309.0,36.43 L310.0,36.26 L311.0,36.09 L312.0,35.92 L313.0,35.76 L314.0,35.59 L315.0,35.42 L316.0,35.26 L317.0,35.09 L318.0,34.93 L319.0,34.76 L320.0,34.60 L321.0,34.44 L322.0,34.28 L323.0,34.12 L324.0,33.96 L325.0,33.80 L326.0,33.64 L327.0,33.48 L328.0,33.32 L329.0,33.17 L330.0,33.01 L331.0,32.86 L332.0,32.70 L333.0,32.55 L334.0,32.40 L335.0,32.25 L336.0,32.10 L337.0,31.95 L338.0,31.80 L339.0,31.65 L340.0,31.50 L341.0,31.35 L342.0,31.20 L343.0,31.05 L344.0,30.91 L345.0,30.76 L346.0,30.61 L347.0,30.46 L348.0,30.31 L349.0,30.16 L350.0,30.02 L351.0,29.88 L352.0,29.73 L353.0,29.59 L354.0,29.46 L355.0,29.32 L356.0,29.19 L357.0,29.06 L358.0,28.94 L359.0,28.82 L360.0,28.70 L361.0,28.59 L362.0,28.47 L363.0,28.36 L364.0,28.26 L365.0,28.15 L366.0,28.05 L367.0,27.94 L368.0,27.84 L369.0,27.74 L370.0,27.64 L371.0,27.55 L372.0,27.45 L373.0,27.36 L374.0,27.26 L375.0,27.17 L376.0,27.08 L377.0,26.99 L378.0,26.90 L379.0,26.81 L380.0,26.73 L381.0,26.64 L382.0,26.55 L383.0,26.47 L384.0,26.38 L385.0,26.30 L386.0,26.22 L387.0,26.13 L388.0,26.05 L389.0,25.97 L390.0,25.89 L391.0,25.81 L392.0,25.72 L393.0,25.64 L394.0,25.57 L395.0,25.49 L396.0,25.41 L397.0,25.33 L398.0,25.25 L399.0,25.18 L400.0,25.10 L401.0,25.03 L402.0,24.95 L403.0,24.88 L404.0,24.80 L405.0,24.73 L406.0,24.66 L407.0,24.59 L408.0,24.52 L409.0,24.45 L410.0,24.38 L411.0,24.31 L412.0,24.25 L413.0,24.18 L414.0,24.11 L415.0,24.05 L416.0,23.99 L417.0,23.92 L418.0,23.86" stroke="#ffa61e" stroke-width="1.5"/>
<path d="M59.0,100.45 L60.0,100.13 L61.0,99.81 L62.0,99.49 L63.0,99.17 L64.0,98.85 L65.0,98.53 L66.0,98.22 L67.0,97.90 L68.0,97.58 L69.0,97.26 L70.0,96.94 L71.0,96.62 L72.0,96.30 L73.0,95.98 L74.0,95.66 L75.0,95.34 L76.0,95.02 L77.0,94.70 L78.0,94.38 L79.0,94.06 L80.0,93.74 L81.0,93.43 L82.0,93.11 L83.0,92.79 L84.0,92.47 L85.0,92.15 L86.0,91.83 L87.0,91.51 L88.0,91.19 L89.0,90.87 L90.0,90.55 L91.0,90.23 L92.0,89.91 L93.0,89.59 L94.0,89.27 L95.0,88.95 L96.0,88.63 L97.0,88.31 L98.0,87.99 L99.0,87.67 L100.0,87.35 L101.0,87.03 L102.0,86.71 L103.0,86.39 L104.0,86.07 L105.0,85.75 L106.0,85.43 L107.0,85.11 L108.0,84.79 L109.0,84.47 L110.0,84.15 L111.0,83.83 L112.0,83.51 L113.0,83.19 L114.0,82.87 L115.0,82.55 L116.0,82.23 L117.0,81.91 L118.0,81.59 L119.0,81.27 L120.0,80.95 L121.0,80.63 L122.0,80.31 L123.0,79.99 L124.0,79.67 L125.0,79.35 L126.0,79.03 L127.0,78.71 L128.0,78.39 L129.0,78.07 L130.0,77.75 L131.0,77.43 L132.0,77.11 L133.0,76.79 L134.0,76.47 L135.0,76.15 L136.0,75.83 L137.0,75.51 L138.0,75.19 L139.0,74.87 L140.0,74.54 L141.0,74.22 L142.0,73.90 L143.0,73.58 L144.0,73.26 L145.0,72.94 L146.0,72.62 L147.0,72.30 L148.0,71.98 L149.0,71.66 L150.0,71.34 L151.0,71.02 L152.0,70.70 L153.0,70.38 L154.0,70.06 L155.0,69.73 L156.0,69.41 L157.0,69.09 L158.0,68.77 L159.0,68.45 L160.0,68.13 L161.0,67.81 L162.0,67.49 L163.0,67.17 L164.0,66.85 L165.0,66.52 L166.0,66.20 L167.0,65.88 L168.0,65.56 L169.0,65.24 L170.0,64.91 L171.0,64.59 L172.0,64.27 L173.0,63.95 L174.0,63.63 L175.0,63.30 L176.0,62.98 L177.0,62.66 L178.0,62.33 L179.0,62.01 L180.0,61.69 L181.0,61.37 L182.0,61.04 L183.0,60.72 L184.0,60.40 L185.0,60.07 L186.0,59.75 L187.0,59.43 L188.0,59.10 L189.0,58.78 L190.0,58.45 L191.0,58.13 L192.0,57.81 L193.0,57.48 L194.0,57.16 L195.0,56.84 L196.0,56.51 L197.0,56.19 L198.0,55.86 L199.0,55.54 L200.0,55.22 L201.0,54.89 L202.0,54.57 L203.0,54.24 L204.0,53.92 L205.0,53.60 L206.0,53.27 L207.0,52.95 L208.0,52.62 L209.0,52.30 L210.0,51.98 L211.0,51.65 L212.0,51.33 L213.0,51.00 L214.0,50.68 L215.0,50.36 L216.0,50.03 L217.0,49.71 L218.0,49.39 L219.0,49.06 L220.0,48.74 L221.0,48.41 L222.0,48.09 L223.0,47.77 L224.0,47.44 L225.0,47.12 L226.0,46.80 L227.0,46.47 L228.0,46.15 L229.0,45.83 L230.0,45.50 L231.0,45.18 L232.0,44.86 L233.0,44.53 L234.0,44.21 L235.0,43.89 L236.0,43.57 L237.0,43.24 L238.0,42.92 L239.0,42.60 L240.0,42.28 L241.0,41.95 L242.0,41.63 L243.0,41.31 L244.0,40.99 L245.0,40.67 L246.0,40.34 L247.0,40.02 L248.0,39.70 L249.0,39.38 L250.0,39.06 L251.0,38.74 L252.0,38.42 L253.0,38.10 L254.0,37.78 L255.0,37.46 L256.0,37.14 L257.0,36.82 L258.0,36.50 L259.0,36.18 L260.0,35.86 L261.0,35.54 L262.0,35.22 L263.0,34.90 L264.0,34.58 L265.0,34.26 L266.0,33.94 L267.0,33.62 L268.0,33.30 L269.0,32.99 L270.0,32.67 L271.0,32.35 L272.0,32.03 L273.0,31.72 L274.0,31.40 L275.0,31.08 L276.0,30.76 L277.0,30.45 L278.0,30.13 L279.0,29.82 L280.0,29.50 L281.0,29.18 L282.0,28.86 L283.0,28.55 L284.0,28.23 L285.0,27.91 L286.0,27.60 L287.0,27.30 L288.0,27.00 L289.0,26.70 L290.0,26.41 L291.0,26.12 L292.0,25.85 L293.0,25.60 L294.0,25.37 L295.0,25.16 L296.0,24.97 L297.0,24.80 L298.0,24.66 L299.0,24.53 L300.0,24.41 L301.0,24.30 L302.0,24.20 L303.0,24.10 L304.0,24.00 L305.0,23.91 L306.0,23.82 L307.0,23.73 L308.0,23.64 L309.0,23.56 L310.0,23.47 L311.0,23.39 L312.0,23.31 L313.0,23.23 L314.0,23.16 L315.0,23.08 L316.0,23.00 L317.0,22.93 L318.0,22.85 L319.0,22.78 L320.0,22.70 L321.0,22.62 L322.0,22.55 L323.0,22.48 L324.0,22.40 L325.0,22.33 L326.0,22.26 L327.0,22.19 L328.0,22.12 L329.0,22.05 L330.0,21.98 L331.0,21.91 L332.0,21.84 L333.0,21.77 L334.0,21.70 L335.0,21.64 L336.0,21.57 L337.0,21.50 L338.0,21.43 L339.0,21.37 L340.0,21.30 L341.0,21.23 L342.0,21.16 L343.0,21.09 L344.0,21.02 L345.0,20.95 L346.0,20.88 L347.0,20.81 L348.0,20.74 L349.0,20.67 L350.0,20.61 L351.0,20.54 L352.0,20.47 L353.0,20.41 L354.0,20.34 L355.0,20.28 L356.0,20.22 L357.0,20.16 L358.0,20.11 L359.0,20.05 L360.0,20.00 L361.0,19.95 L362.0,19.90 L363.0,19.86 L364.0,19.81 L365.0,19.77 L366.0,19.72 L367.0,19.68 L368.0,19.64 L369.0,19.60 L370.0,19.56 L371.0,19.52 L372.0,19.49 L373.0,19.45 L374.0,19.41 L375.0,19.37 L376.0,19.34 L377.0,19.30 L378.0,19.26 L379.0,19.23 L380.0,19.19 L381.0,19.15 L382.0,19.11 L383.0,19.08 L384.0,19.04 L385.0,19.00 L386.0,18.96 L387.0,18.92 L388.0,18.88 L389.0,18.84 L390.0,18.80 L391.0,18.77 L392.0,18.73 L393.0,18.69 L394.0,18.65 L395.0,18.61 L396.0,18.57 L397.0,18.53 L398.0,18.50 L399.0,18.46 L400.0,18.42 L401.0,18.38 L402.0,18.34 L403.0,18.30 L404.0,18.27 L405.0,18.23 L406.0,18.19 L407.0,18.15 L408.0,18.11 L409.0,18.08 L410.0,18.04 L411.0,18.00 L412.0,17.96 L413.0,17.92 L414.0,17.89 L415.0,17.85 L416.0,17.81 L417.0,17.77 L418.0,17.74" stroke="#000000" stroke-width="1.0"/>
</g>
<g clip-path="url(#cb)" fill="none" stroke-linejoin="round">
<path d="M59.0,149.05 L60.0,149.40 L61.0,149.75 L62.0,150.11 L63.0,150.48 L64.0,150.86 L65.0,151.25 L66.0,151.64 L67.0,152.05 L68.0,152.46 L69.0,152.89 L70.0,153.32 L71.0,153.76 L72.0,154.21 L73.0,154.66 L74.0,155.13 L75.0,155.60 L76.0,156.08 L77.0,156.57 L78.0,157.06 L79.0,157.56 L80.0,158.07 L81.0,158.59 L82.0,159.11 L83.0,159.64 L84.0,160.18 L85.0,160.72 L86.0,161.27 L87.0,161.82 L88.0,162.39 L89.0,162.96 L90.0,163.53 L91.0,164.11 L92.0,164.70 L93.0,165.29 L94.0,165.89 L95.0,166.49 L96.0,167.10 L97.0,167.71 L98.0,168.33 L99.0,168.95 L100.0,169.58 L101.0,170.22 L102.0,170.85 L103.0,171.50 L104.0,172.14 L105.0,172.79 L106.0,173.45 L107.0,174.11 L108.0,174.77 L109.0,175.44 L110.0,176.11 L111.0,176.78 L112.0,177.46 L113.0,178.14 L114.0,178.83 L115.0,179.51 L116.0,180.20 L117.0,180.90 L118.0,181.59 L119.0,182.29 L120.0,183.00 L121.0,183.70 L122.0,184.41 L123.0,185.12 L124.0,185.83 L125.0,186.54 L126.0,187.26 L127.0,187.97 L128.0,188.69 L129.0,189.41 L130.0,190.13 L131.0,190.86 L132.0,191.58 L133.0,192.31 L134.0,193.03 L135.0,193.76 L136.0,194.49 L137.0,195.22 L138.0,195.95 L139.0,196.68 L140.0,197.41 L141.0,198.14 L142.0,198.87 L143.0,199.60 L144.0,200.33 L145.0,201.06 L146.0,201.80 L147.0,202.53 L148.0,203.26 L149.0,203.99 L150.0,204.72 L151.0,205.45 L152.0,206.19 L153.0,206.93 L154.0,207.66 L155.0,208.41 L156.0,209.15 L157.0,209.89 L158.0,210.64 L159.0,211.40 L160.0,212.15 L161.0,212.91 L162.0,213.68 L163.0,214.45 L164.0,215.22 L165.0,216.00 L166.0,216.79 L167.0,217.58 L168.0,218.38 L169.0,219.18 L170.0,219.99 L171.0,220.80 L172.0,221.62 L173.0,222.44 L174.0,223.26 L175.0,224.09 L176.0,224.92 L177.0,225.74 L178.0,226.57 L179.0,227.40 L180.0,228.23 L181.0,229.05 L182.0,229.87 L183.0,230.69 L184.0,231.51 L185.0,232.32 L186.0,233.12 L187.0,233.92 L188.0,234.71 L189.0,235.50 L190.0,236.27 L191.0,237.04 L192.0,237.80 L193.0,238.55 L194.0,239.29 L195.0,240.03 L196.0,240.76 L197.0,241.48 L198.0,242.20 L199.0,242.91 L200.0,243.62 L201.0,244.32 L202.0,245.02 L203.0,245.72 L204.0,246.41 L205.0,247.10 L206.0,247.78 L207.0,248.47 L208.0,249.15 L209.0,249.83 L210.0,250.51 L211.0,251.19 L212.0,251.88 L213.0,252.56 L214.0,253.24 L215.0,253.92 L216.0,254.61 L217.0,255.30 L218.0,255.99 L219.0,256.68 L220.0,257.38 L221.0,258.08 L222.0,258.79 L223.0,259.50 L224.0,260.22 L225.0,260.94 L226.0,261.67 L227.0,262.41 L228.0,263.15 L229.0,263.90 L230.0,264.65 L231.0,265.41 L232.0,266.17 L233.0,266.93 L234.0,267.69 L235.0,268.45 L236.0,269.24 L237.0,270.03 L238.0,270.82 L239.0,271.61 L240.0,272.39 L241.0,273.17 L242.0,273.94 L243.0,274.71 L244.0,275.47 L245.0,276.22 L246.0,276.97 L247.0,277.70 L248.0,278.42 L249.0,279.14 L250.0,279.83 L251.0,280.52 L252.0,281.19 L253.0,281.84 L254.0,282.48 L255.0,283.10 L256.0,283.66 L257.0,284.20 L258.0,284.72 L259.0,285.21 L260.0,285.69 L261.0,286.14 L262.0,286.56 L263.0,286.96 L264.0,287.35 L265.0,287.72 L266.0,288.08 L267.0,288.43 L268.0,288.77 L269.0,289.11 L270.0,289.43 L271.0,289.75 L272.0,290.06 L273.0,290.36 L274.0,290.65 L275.0,290.93 L276.0,291.20 L277.0,291.46 L278.0,291.71 L279.0,291.94 L280.0,292.15 L281.0,292.34 L282.0,292.49 L283.0,292.62 L284.0,292.71 L285.0,292.77 L286.0,292.79 L287.0,292.76 L288.0,292.69 L289.0,292.58 L290.0,292.44 L291.0,292.25 L292.0,292.04 L293.0,291.80 L294.0,291.52 L295.0,291.22 L296.0,290.90 L297.0,290.56 L298.0,290.19 L299.0,289.82 L300.0,289.43 L301.0,289.04 L302.0,288.66 L303.0,288.27 L304.0,287.90 L305.0,287.55 L306.0,287.21 L307.0,286.90 L308.0,286.61 L309.0,286.35 L310.0,286.12 L311.0,285.91 L312.0,285.72 L313.0,285.56 L314.0,285.42 L315.0,285.29 L316.0,285.19 L317.0,285.10 L318.0,285.03 L319.0,284.98 L320.0,284.95 L321.0,284.93 L322.0,284.93 L323.0,284.94 L324.0,284.96 L325.0,284.99 L326.0,285.02 L327.0,285.05 L328.0,285.10 L329.0,285.15 L330.0,285.21 L331.0,285.28 L332.0,285.36 L333.0,285.45 L334.0,285.54 L335.0,285.63 L336.0,285.73 L337.0,285.84 L338.0,285.95 L339.0,286.07 L340.0,286.19 L341.0,286.31 L342.0,286.44 L343.0,286.57 L344.0,286.71 L345.0,286.84 L346.0,287.01 L347.0,287.17 L348.0,287.34 L349.0,287.51 L350.0,287.67 L351.0,287.84 L352.0,288.01 L353.0,288.18 L354.0,288.34 L355.0,288.51 L356.0,288.67 L357.0,288.83 L358.0,288.99 L359.0,289.15 L360.0,289.31 L361.0,289.47 L362.0,289.63 L363.0,289.79 L364.0,289.95 L365.0,290.10 L366.0,290.26 L367.0,290.41 L368.0,290.56 L369.0,290.72 L370.0,290.87 L371.0,291.02 L372.0,291.17 L373.0,291.32 L374.0,291.47 L375.0,291.62 L376.0,291.77 L377.0,291.92 L378.0,292.07 L379.0,292.22 L380.0,292.37 L381.0,292.51 L382.0,292.66 L383.0,292.81 L384.0,292.95 L385.0,293.10 L386.0,293.25 L387.0,293.39 L388.0,293.54 L389.0,293.69 L390.0,293.83 L391.0,293.98 L392.0,294.12 L393.0,294.27 L394.0,294.42 L395.0,294.56 L396.0,294.71 L397.0,294.85 L398.0,295.00 L399.0,295.15 L400.0,295.30 L401.0,295.44 L402.0,295.59 L403.0,295.74 L404.0,295.89 L405.0,296.04 L406.0,296.19 L407.0,296.34 L408.0,296.49 L409.0,296.64 L410.0,296.79 L411.0,296.94 L412.0,297.09 L413.0,297.24 L414.0,297.40 L415.0,297.55 L416.0,297.71 L417.0,297.86 L418.0,298.02" stroke="#ee00a6" stroke-width="1.5"/>
<path d="M59.0,150.89 L60.0,151.22 L61.0,151.56 L62.0,151.91 L63.0,152.27 L64.0,152.64 L65.0,153.01 L66.0,153.40 L67.0,153.80 L68.0,154.21 L69.0,154.62 L70.0,155.05 L71.0,155.48 L72.0,155.92 L73.0,156.37 L74.0,156.83 L75.0,157.30 L76.0,157.77 L77.0,158.26 L78.0,158.75 L79.0,159.25 L80.0,159.75 L81.0,160.27 L82.0,160.79 L83.0,161.32 L84.0,161.85 L85.0,162.39 L86.0,162.94 L87.0,163.50 L88.0,164.06 L89.0,164.63 L90.0,165.20 L91.0,165.78 L92.0,166.36 L93.0,166.95 L94.0,167.55 L95.0,168.15 L96.0,168.76 L97.0,169.37 L98.0,169.99 L99.0,170.61 L100.0,171.23 L101.0,171.87 L102.0,172.50 L103.0,173.14 L104.0,173.78 L105.0,174.43 L106.0,175.08 L107.0,175.74 L108.0,176.39 L109.0,177.06 L110.0,177.72 L111.0,178.39 L112.0,179.06 L113.0,179.74 L114.0,180.41 L115.0,181.09 L116.0,181.78 L117.0,182.46 L118.0,183.15 L119.0,183.84 L120.0,184.53 L121.0,185.23 L122.0,185.93 L123.0,186.63 L124.0,187.33 L125.0,188.03 L126.0,188.73 L127.0,189.44 L128.0,190.14 L129.0,190.85 L130.0,191.56 L131.0,192.27 L132.0,192.98 L133.0,193.69 L134.0,194.40 L135.0,195.12 L136.0,195.83 L137.0,196.54 L138.0,197.26 L139.0,197.97 L140.0,198.68 L141.0,199.40 L142.0,200.11 L143.0,200.82 L144.0,201.53 L145.0,202.24 L146.0,202.95 L147.0,203.66 L148.0,204.37 L149.0,205.08 L150.0,205.80 L151.0,206.51 L152.0,207.22 L153.0,207.93 L154.0,208.65 L155.0,209.37 L156.0,210.09 L157.0,210.82 L158.0,211.55 L159.0,212.28 L160.0,213.02 L161.0,213.76 L162.0,214.50 L163.0,215.25 L164.0,216.01 L165.0,216.77 L166.0,217.54 L167.0,218.32 L168.0,219.10 L169.0,219.89 L170.0,220.69 L171.0,221.49 L172.0,222.29 L173.0,223.11 L174.0,223.92 L175.0,224.74 L176.0,225.56 L177.0,226.38 L178.0,227.20 L179.0,228.02 L180.0,228.84 L181.0,229.66 L182.0,230.48 L183.0,231.29 L184.0,232.10 L185.0,232.90 L186.0,233.70 L187.0,234.49 L188.0,235.28 L189.0,236.05 L190.0,236.82 L191.0,237.58 L192.0,238.33 L193.0,239.07 L194.0,239.81 L195.0,240.53 L196.0,241.25 L197.0,241.96 L198.0,242.67 L199.0,243.37 L200.0,244.06 L201.0,244.75 L202.0,245.43 L203.0,246.11 L204.0,246.79 L205.0,247.46 L206.0,248.13 L207.0,248.79 L208.0,249.46 L209.0,250.12 L210.0,250.78 L211.0,251.43 L212.0,252.09 L213.0,252.75 L214.0,253.41 L215.0,254.06 L216.0,254.72 L217.0,255.38 L218.0,256.04 L219.0,256.71 L220.0,257.37 L221.0,258.04 L222.0,258.71 L223.0,259.39 L224.0,260.07 L225.0,260.75 L226.0,261.44 L227.0,262.14 L228.0,262.84 L229.0,263.54 L230.0,264.25 L231.0,264.96 L232.0,265.67 L233.0,266.39 L234.0,267.10 L235.0,267.82 L236.0,268.53 L237.0,269.25 L238.0,269.96 L239.0,270.66 L240.0,271.37 L241.0,272.07 L242.0,272.76 L243.0,273.45 L244.0,274.13 L245.0,274.80 L246.0,275.47 L247.0,276.12 L248.0,276.77 L249.0,277.40 L250.0,278.03 L251.0,278.64 L252.0,279.24 L253.0,279.82 L254.0,280.39 L255.0,280.94 L256.0,281.48 L257.0,282.01 L258.0,282.51 L259.0,283.00 L260.0,283.46 L261.0,283.91 L262.0,284.34 L263.0,284.75 L264.0,285.14 L265.0,285.52 L266.0,285.89 L267.0,286.25 L268.0,286.61 L269.0,286.95 L270.0,287.28 L271.0,287.59 L272.0,287.89 L273.0,288.17 L274.0,288.44 L275.0,288.68 L276.0,288.90 L277.0,289.11 L278.0,289.28 L279.0,289.43 L280.0,289.55 L281.0,289.63 L282.0,289.69 L283.0,289.70 L284.0,289.67 L285.0,289.61 L286.0,289.49 L287.0,289.34 L288.0,289.15 L289.0,288.93 L290.0,288.69 L291.0,288.42 L292.0,288.13 L293.0,287.83 L294.0,287.53 L295.0,287.21 L296.0,286.90 L297.0,286.59 L298.0,286.29 L299.0,285.99 L300.0,285.71 L301.0,285.43 L302.0,285.17 L303.0,284.92 L304.0,284.69 L305.0,284.47 L306.0,284.27 L307.0,284.09 L308.0,283.92 L309.0,283.78 L310.0,283.67 L311.0,283.57 L312.0,283.50 L313.0,283.46 L314.0,283.45 L315.0,283.46 L316.0,283.48 L317.0,283.53 L318.0,283.59 L319.0,283.65 L320.0,283.72 L321.0,283.79 L322.0,283.86 L323.0,283.93 L324.0,283.99 L325.0,284.06 L326.0,284.13 L327.0,284.19 L328.0,284.26 L329.0,284.34 L330.0,284.42 L331.0,284.51 L332.0,284.60 L333.0,284.70 L334.0,284.81 L335.0,284.93 L336.0,285.05 L337.0,285.19 L338.0,285.33 L339.0,285.48 L340.0,285.63 L341.0,285.79 L342.0,285.96 L343.0,286.13 L344.0,286.30 L345.0,286.48 L346.0,286.66 L347.0,286.84 L348.0,287.02 L349.0,287.21 L350.0,287.39 L351.0,287.58 L352.0,287.76 L353.0,287.94 L354.0,288.12 L355.0,288.30 L356.0,288.48 L357.0,288.65 L358.0,288.83 L359.0,289.00 L360.0,289.17 L361.0,289.34 L362.0,289.50 L363.0,289.67 L364.0,289.83 L365.0,290.00 L366.0,290.16 L367.0,290.32 L368.0,290.47 L369.0,290.63 L370.0,290.79 L371.0,290.94 L372.0,291.10 L373.0,291.25 L374.0,291.40 L375.0,291.56 L376.0,291.71 L377.0,291.86 L378.0,292.00 L379.0,292.15 L380.0,292.30 L381.0,292.45 L382.0,292.59 L383.0,292.74 L384.0,292.89 L385.0,293.03 L386.0,293.18 L387.0,293.32 L388.0,293.47 L389.0,293.61 L390.0,293.75 L391.0,293.90 L392.0,294.04 L393.0,294.19 L394.0,294.33 L395.0,294.47 L396.0,294.62 L397.0,294.76 L398.0,294.91 L399.0,295.05 L400.0,295.20 L401.0,295.34 L402.0,295.49 L403.0,295.64 L404.0,295.78 L405.0,295.93 L406.0,296.08 L407.0,296.23 L408.0,296.38 L409.0,296.53 L410.0,296.68 L411.0,296.84 L412.0,296.99 L413.0,297.14 L414.0,297.30 L415.0,297.46 L416.0,297.62 L417.0,297.77 L418.0,297.93" stroke="#a31cf2" stroke-width="1.5"/>
<path d="M59.0,160.51 L60.0,160.92 L61.0,161.33 L62.0,161.75 L63.0,162.16 L64.0,162.58 L65.0,163.01 L66.0,163.43 L67.0,163.86 L68.0,164.29 L69.0,164.73 L70.0,165.16 L71.0,165.60 L72.0,166.05 L73.0,166.49 L74.0,166.94 L75.0,167.39 L76.0,167.85 L77.0,168.31 L78.0,168.77 L79.0,169.23 L80.0,169.70 L81.0,170.17 L82.0,170.65 L83.0,171.13 L84.0,171.61 L85.0,172.09 L86.0,172.58 L87.0,173.07 L88.0,173.56 L89.0,174.06 L90.0,174.56 L91.0,175.07 L92.0,175.58 L93.0,176.09 L94.0,176.60 L95.0,177.12 L96.0,177.65 L97.0,178.17 L98.0,178.70 L99.0,179.24 L100.0,179.77 L101.0,180.31 L102.0,180.86 L103.0,181.41 L104.0,181.96 L105.0,182.52 L106.0,183.08 L107.0,183.64 L108.0,184.21 L109.0,184.78 L110.0,185.36 L111.0,185.94 L112.0,186.52 L113.0,187.11 L114.0,187.70 L115.0,188.30 L116.0,188.90 L117.0,189.50 L118.0,190.11 L119.0,190.72 L120.0,191.34 L121.0,191.96 L122.0,192.59 L123.0,193.22 L124.0,193.85 L125.0,194.49 L126.0,195.13 L127.0,195.78 L128.0,196.43 L129.0,197.09 L130.0,197.75 L131.0,198.41 L132.0,199.08 L133.0,199.76 L134.0,200.44 L135.0,201.12 L136.0,201.81 L137.0,202.50 L138.0,203.19 L139.0,203.88 L140.0,204.57 L141.0,205.25 L142.0,205.93 L143.0,206.59 L144.0,207.25 L145.0,207.89 L146.0,208.52 L147.0,209.13 L148.0,209.74 L149.0,210.33 L150.0,210.93 L151.0,211.52 L152.0,212.10 L153.0,212.69 L154.0,213.29 L155.0,213.89 L156.0,214.50 L157.0,215.12 L158.0,215.76 L159.0,216.41 L160.0,217.07 L161.0,217.75 L162.0,218.43 L163.0,219.12 L164.0,219.82 L165.0,220.51 L166.0,221.20 L167.0,221.89 L168.0,222.57 L169.0,223.24 L170.0,223.91 L171.0,224.56 L172.0,225.21 L173.0,225.86 L174.0,226.51 L175.0,227.15 L176.0,227.79 L177.0,228.44 L178.0,229.09 L179.0,229.75 L180.0,230.41 L181.0,231.08 L182.0,231.76 L183.0,232.45 L184.0,233.14 L185.0,233.85 L186.0,234.56 L187.0,235.27 L188.0,235.98 L189.0,236.70 L190.0,237.42 L191.0,238.15 L192.0,238.87 L193.0,239.59 L194.0,240.30 L195.0,241.02 L196.0,241.72 L197.0,242.43 L198.0,243.13 L199.0,243.82 L200.0,244.50 L201.0,245.17 L202.0,245.84 L203.0,246.50 L204.0,247.15 L205.0,247.80 L206.0,248.45 L207.0,249.09 L208.0,249.72 L209.0,250.36 L210.0,250.99 L211.0,251.62 L212.0,252.25 L213.0,252.88 L214.0,253.52 L215.0,254.15 L216.0,254.78 L217.0,255.42 L218.0,256.06 L219.0,256.70 L220.0,257.34 L221.0,257.99 L222.0,258.63 L223.0,259.28 L224.0,259.92 L225.0,260.57 L226.0,261.21 L227.0,261.84 L228.0,262.48 L229.0,263.10 L230.0,263.72 L231.0,264.34 L232.0,264.95 L233.0,265.55 L234.0,266.14 L235.0,266.71 L236.0,267.28 L237.0,267.84 L238.0,268.39 L239.0,268.92 L240.0,269.44 L241.0,269.94 L242.0,270.43 L243.0,270.91 L244.0,271.37 L245.0,271.81 L246.0,272.24 L247.0,272.65 L248.0,273.05 L249.0,273.43 L250.0,273.79 L251.0,274.13 L252.0,274.46 L253.0,274.77 L254.0,275.07 L255.0,275.35 L256.0,275.62 L257.0,275.88 L258.0,276.12 L259.0,276.35 L260.0,276.57 L261.0,276.77 L262.0,276.96 L263.0,277.13 L264.0,277.29 L265.0,277.43 L266.0,277.55 L267.0,277.66 L268.0,277.75 L269.0,277.83 L270.0,277.88 L271.0,277.92 L272.0,277.95 L273.0,277.95 L274.0,277.94 L275.0,277.91 L276.0,277.85 L277.0,277.78 L278.0,277.69 L279.0,277.58 L280.0,277.45 L281.0,277.30 L282.0,277.14 L283.0,276.97 L284.0,276.79 L285.0,276.61 L286.0,276.42 L287.0,276.23 L288.0,276.06 L289.0,275.88 L290.0,275.72 L291.0,275.58 L292.0,275.45 L293.0,275.34 L294.0,275.25 L295.0,275.19 L296.0,275.17 L297.0,275.17 L298.0,275.20 L299.0,275.27 L300.0,275.35 L301.0,275.46 L302.0,275.59 L303.0,275.73 L304.0,275.89 L305.0,276.05 L306.0,276.22 L307.0,276.39 L308.0,276.57 L309.0,276.74 L310.0,276.92 L311.0,277.09 L312.0,277.27 L313.0,277.44 L314.0,277.62 L315.0,277.80 L316.0,277.98 L317.0,278.16 L318.0,278.34 L319.0,278.52 L320.0,278.70 L321.0,278.88 L322.0,279.06 L323.0,279.24 L324.0,279.43 L325.0,279.61 L326.0,279.79 L327.0,279.98 L328.0,280.16 L329.0,280.35 L330.0,280.54 L331.0,280.72 L332.0,280.91 L333.0,281.10 L334.0,281.29 L335.0,281.48 L336.0,281.67 L337.0,281.86 L338.0,282.05 L339.0,282.24 L340.0,282.43 L341.0,282.63 L342.0,282.82 L343.0,283.01 L344.0,283.21 L345.0,283.40 L346.0,283.60 L347.0,283.80 L348.0,283.99 L349.0,284.19 L350.0,284.39 L351.0,284.58 L352.0,284.78 L353.0,284.98 L354.0,285.17 L355.0,285.37 L356.0,285.57 L357.0,285.77 L358.0,285.97 L359.0,286.16 L360.0,286.36 L361.0,286.56 L362.0,286.76 L363.0,286.95 L364.0,287.15 L365.0,287.35 L366.0,287.54 L367.0,287.74 L368.0,287.94 L369.0,288.13 L370.0,288.33 L371.0,288.52 L372.0,288.71 L373.0,288.91 L374.0,289.10 L375.0,289.29 L376.0,289.48 L377.0,289.67 L378.0,289.86 L379.0,290.05 L380.0,290.24 L381.0,290.43 L382.0,290.61 L383.0,290.80 L384.0,290.98 L385.0,291.16 L386.0,291.35 L387.0,291.53 L388.0,291.71 L389.0,291.89 L390.0,292.06 L391.0,292.24 L392.0,292.41 L393.0,292.59 L394.0,292.76 L395.0,292.93 L396.0,293.10 L397.0,293.27 L398.0,293.43 L399.0,293.60 L400.0,293.76 L401.0,293.92 L402.0,294.08 L403.0,294.24 L404.0,294.40 L405.0,294.55 L406.0,294.70 L407.0,294.86 L408.0,295.00 L409.0,295.15 L410.0,295.30 L411.0,295.44 L412.0,295.58 L413.0,295.72 L414.0,295.85 L415.0,295.99 L416.0,296.12 L417.0,296.25 L418.0,296.38" stroke="#2e00e6" stroke-width="1.5"/>
<path d="M59.0,177.50 L60.0,177.80 L61.0,178.10 L62.0,178.41 L63.0,178.72 L64.0,179.04 L65.0,179.36 L66.0,179.68 L67.0,180.01 L68.0,180.34 L69.0,180.67 L70.0,181.01 L71.0,181.36 L72.0,181.71 L73.0,182.06 L74.0,182.41 L75.0,182.78 L76.0,183.14 L77.0,183.51 L78.0,183.88 L79.0,184.26 L80.0,184.64 L81.0,185.03 L82.0,185.42 L83.0,185.81 L84.0,186.21 L85.0,186.61 L86.0,187.02 L87.0,187.43 L88.0,187.85 L89.0,188.27 L90.0,188.69 L91.0,189.12 L92.0,189.56 L93.0,189.99 L94.0,190.43 L95.0,190.88 L96.0,191.33 L97.0,191.79 L98.0,192.24 L99.0,192.71 L100.0,193.18 L101.0,193.65 L102.0,194.12 L103.0,194.61 L104.0,195.09 L105.0,195.58 L106.0,196.07 L107.0,196.56 L108.0,197.06 L109.0,197.55 L110.0,198.05 L111.0,198.55 L112.0,199.05 L113.0,199.55 L114.0,200.05 L115.0,200.55 L116.0,201.05 L117.0,201.55 L118.0,202.05 L119.0,202.55 L120.0,203.04 L121.0,203.53 L122.0,204.02 L123.0,204.51 L124.0,204.99 L125.0,205.47 L126.0,205.94 L127.0,206.41 L128.0,206.88 L129.0,207.35 L130.0,207.81 L131.0,208.27 L132.0,208.73 L133.0,209.19 L134.0,209.65 L135.0,210.12 L136.0,210.58 L137.0,211.05 L138.0,211.52 L139.0,211.99 L140.0,212.47 L141.0,212.95 L142.0,213.44 L143.0,213.93 L144.0,214.43 L145.0,214.94 L146.0,215.45 L147.0,215.97 L148.0,216.50 L149.0,217.03 L150.0,217.57 L151.0,218.12 L152.0,218.67 L153.0,219.22 L154.0,219.77 L155.0,220.33 L156.0,220.89 L157.0,221.46 L158.0,222.02 L159.0,222.58 L160.0,223.15 L161.0,223.71 L162.0,224.28 L163.0,224.85 L164.0,225.41 L165.0,225.98 L166.0,226.54 L167.0,227.11 L168.0,227.67 L169.0,228.23 L170.0,228.79 L171.0,229.36 L172.0,229.92 L173.0,230.47 L174.0,231.03 L175.0,231.58 L176.0,232.14 L177.0,232.69 L178.0,233.24 L179.0,233.78 L180.0,234.33 L181.0,234.87 L182.0,235.41 L183.0,235.94 L184.0,236.48 L185.0,237.01 L186.0,237.53 L187.0,238.05 L188.0,238.57 L189.0,239.09 L190.0,239.60 L191.0,240.11 L192.0,240.61 L193.0,241.11 L194.0,241.60 L195.0,242.09 L196.0,242.57 L197.0,243.05 L198.0,243.53 L199.0,244.00 L200.0,244.46 L201.0,244.92 L202.0,245.37 L203.0,245.81 L204.0,246.25 L205.0,246.69 L206.0,247.12 L207.0,247.54 L208.0,247.95 L209.0,248.36 L210.0,248.76 L211.0,249.15 L212.0,249.54 L213.0,249.91 L214.0,250.28 L215.0,250.64 L216.0,251.00 L217.0,251.34 L218.0,251.68 L219.0,252.00 L220.0,252.32 L221.0,252.63 L222.0,252.92 L223.0,253.21 L224.0,253.49 L225.0,253.76 L226.0,254.02 L227.0,254.26 L228.0,254.50 L229.0,254.72 L230.0,254.94 L231.0,255.14 L232.0,255.33 L233.0,255.51 L234.0,255.67 L235.0,255.83 L236.0,255.97 L237.0,256.09 L238.0,256.21 L239.0,256.31 L240.0,256.40 L241.0,256.47 L242.0,256.54 L243.0,256.60 L244.0,256.65 L245.0,256.69 L246.0,256.72 L247.0,256.75 L248.0,256.78 L249.0,256.81 L250.0,256.83 L251.0,256.85 L252.0,256.88 L253.0,256.90 L254.0,256.93 L255.0,256.96 L256.0,257.00 L257.0,257.04 L258.0,257.09 L259.0,257.15 L260.0,257.22 L261.0,257.30 L262.0,257.39 L263.0,257.50 L264.0,257.61 L265.0,257.74 L266.0,257.87 L267.0,258.02 L268.0,258.17 L269.0,258.33 L270.0,258.50 L271.0,258.67 L272.0,258.86 L273.0,259.04 L274.0,259.24 L275.0,259.43 L276.0,259.63 L277.0,259.84 L278.0,260.05 L279.0,260.27 L280.0,260.48 L281.0,260.71 L282.0,260.93 L283.0,261.16 L284.0,261.39 L285.0,261.63 L286.0,261.87 L287.0,262.11 L288.0,262.36 L289.0,262.60 L290.0,262.85 L291.0,263.11 L292.0,263.36 L293.0,263.62 L294.0,263.88 L295.0,264.14 L296.0,264.40 L297.0,264.66 L298.0,264.92 L299.0,265.19 L300.0,265.46 L301.0,265.72 L302.0,265.99 L303.0,266.26 L304.0,266.53 L305.0,266.80 L306.0,267.07 L307.0,267.33 L308.0,267.60 L309.0,267.87 L310.0,268.14 L311.0,268.41 L312.0,268.68 L313.0,268.95 L314.0,269.21 L315.0,269.48 L316.0,269.75 L317.0,270.02 L318.0,270.28 L319.0,270.55 L320.0,270.82 L321.0,271.09 L322.0,271.35 L323.0,271.62 L324.0,271.88 L325.0,272.15 L326.0,272.41 L327.0,272.68 L328.0,272.94 L329.0,273.21 L330.0,273.47 L331.0,273.73 L332.0,273.99 L333.0,274.26 L334.0,274.52 L335.0,274.78 L336.0,275.04 L337.0,275.30 L338.0,275.55 L339.0,275.81 L340.0,276.07 L341.0,276.33 L342.0,276.58 L343.0,276.84 L344.0,277.09 L345.0,277.34 L346.0,277.60 L347.0,277.85 L348.0,278.10 L349.0,278.35 L350.0,278.60 L351.0,278.85 L352.0,279.10 L353.0,279.34 L354.0,279.59 L355.0,279.83 L356.0,280.07 L357.0,280.32 L358.0,280.56 L359.0,280.80 L360.0,281.04 L361.0,281.28 L362.0,281.51 L363.0,281.75 L364.0,281.98 L365.0,282.22 L366.0,282.45 L367.0,282.68 L368.0,282.91 L369.0,283.14 L370.0,283.36 L371.0,283.59 L372.0,283.82 L373.0,284.04 L374.0,284.26 L375.0,284.49 L376.0,284.71 L377.0,284.93 L378.0,285.15 L379.0,285.37 L380.0,285.59 L381.0,285.81 L382.0,286.02 L383.0,286.24 L384.0,286.46 L385.0,286.67 L386.0,286.89 L387.0,287.10 L388.0,287.31 L389.0,287.53 L390.0,287.74 L391.0,287.95 L392.0,288.17 L393.0,288.38 L394.0,288.59 L395.0,288.80 L396.0,289.01 L397.0,289.22 L398.0,289.44 L399.0,289.65 L400.0,289.86 L401.0,290.07 L402.0,290.28 L403.0,290.49 L404.0,290.70 L405.0,290.91 L406.0,291.12 L407.0,291.33 L408.0,291.55 L409.0,291.76 L410.0,291.97 L411.0,292.18 L412.0,292.39 L413.0,292.61 L414.0,292.82 L415.0,293.04 L416.0,293.25 L417.0,293.46 L418.0,293.68" stroke="#1f63f5" stroke-width="1.5"/>
<path d="M59.0,199.74 L60.0,199.89 L61.0,200.06 L62.0,200.22 L63.0,200.39 L64.0,200.56 L65.0,200.74 L66.0,200.91 L67.0,201.09 L68.0,201.28 L69.0,201.47 L70.0,201.66 L71.0,201.85 L72.0,202.05 L73.0,202.25 L74.0,202.45 L75.0,202.65 L76.0,202.86 L77.0,203.07 L78.0,203.29 L79.0,203.50 L80.0,203.72 L81.0,203.94 L82.0,204.17 L83.0,204.39 L84.0,204.62 L85.0,204.85 L86.0,205.08 L87.0,205.32 L88.0,205.56 L89.0,205.80 L90.0,206.04 L91.0,206.28 L92.0,206.53 L93.0,206.78 L94.0,207.03 L95.0,207.28 L96.0,207.53 L97.0,207.79 L98.0,208.05 L99.0,208.30 L100.0,208.57 L101.0,208.83 L102.0,209.09 L103.0,209.36 L104.0,209.62 L105.0,209.89 L106.0,210.16 L107.0,210.43 L108.0,210.70 L109.0,210.98 L110.0,211.25 L111.0,211.53 L112.0,211.81 L113.0,212.08 L114.0,212.36 L115.0,212.64 L116.0,212.92 L117.0,213.21 L118.0,213.49 L119.0,213.77 L120.0,214.06 L121.0,214.34 L122.0,214.63 L123.0,214.91 L124.0,215.20 L125.0,215.49 L126.0,215.78 L127.0,216.06 L128.0,216.35 L129.0,216.64 L130.0,216.93 L131.0,217.21 L132.0,217.50 L133.0,217.79 L134.0,218.07 L135.0,218.35 L136.0,218.64 L137.0,218.92 L138.0,219.19 L139.0,219.47 L140.0,219.74 L141.0,220.02 L142.0,220.28 L143.0,220.55 L144.0,220.81 L145.0,221.07 L146.0,221.33 L147.0,221.58 L148.0,221.83 L149.0,222.08 L150.0,222.32 L151.0,222.56 L152.0,222.80 L153.0,223.03 L154.0,223.26 L155.0,223.49 L156.0,223.72 L157.0,223.94 L158.0,224.16 L159.0,224.38 L160.0,224.59 L161.0,224.81 L162.0,225.02 L163.0,225.23 L164.0,225.44 L165.0,225.64 L166.0,225.84 L167.0,226.04 L168.0,226.24 L169.0,226.44 L170.0,226.64 L171.0,226.83 L172.0,227.03 L173.0,227.22 L174.0,227.41 L175.0,227.60 L176.0,227.79 L177.0,227.97 L178.0,228.16 L179.0,228.34 L180.0,228.53 L181.0,228.71 L182.0,228.89 L183.0,229.08 L184.0,229.26 L185.0,229.44 L186.0,229.62 L187.0,229.80 L188.0,229.98 L189.0,230.16 L190.0,230.34 L191.0,230.52 L192.0,230.70 L193.0,230.88 L194.0,231.06 L195.0,231.24 L196.0,231.42 L197.0,231.60 L198.0,231.78 L199.0,231.97 L200.0,232.15 L201.0,232.33 L202.0,232.52 L203.0,232.70 L204.0,232.89 L205.0,233.08 L206.0,233.27 L207.0,233.46 L208.0,233.65 L209.0,233.84 L210.0,234.03 L211.0,234.23 L212.0,234.42 L213.0,234.62 L214.0,234.82 L215.0,235.02 L216.0,235.22 L217.0,235.42 L218.0,235.63 L219.0,235.83 L220.0,236.04 L221.0,236.25 L222.0,236.46 L223.0,236.67 L224.0,236.89 L225.0,237.10 L226.0,237.32 L227.0,237.54 L228.0,237.77 L229.0,237.99 L230.0,238.22 L231.0,238.45 L232.0,238.68 L233.0,238.91 L234.0,239.14 L235.0,239.38 L236.0,239.62 L237.0,239.86 L238.0,240.10 L239.0,240.34 L240.0,240.59 L241.0,240.84 L242.0,241.09 L243.0,241.34 L244.0,241.59 L245.0,241.84 L246.0,242.10 L247.0,242.35 L248.0,242.61 L249.0,242.87 L250.0,243.13 L251.0,243.39 L252.0,243.66 L253.0,243.92 L254.0,244.19 L255.0,244.46 L256.0,244.73 L257.0,245.00 L258.0,245.27 L259.0,245.54 L260.0,245.82 L261.0,246.09 L262.0,246.37 L263.0,246.65 L264.0,246.93 L265.0,247.21 L266.0,247.49 L267.0,247.77 L268.0,248.05 L269.0,248.34 L270.0,248.62 L271.0,248.91 L272.0,249.19 L273.0,249.48 L274.0,249.77 L275.0,250.06 L276.0,250.35 L277.0,250.64 L278.0,250.93 L279.0,251.23 L280.0,251.52 L281.0,251.81 L282.0,252.11 L283.0,252.40 L284.0,252.70 L285.0,252.99 L286.0,253.29 L287.0,253.59 L288.0,253.89 L289.0,254.18 L290.0,254.48 L291.0,254.78 L292.0,255.08 L293.0,255.38 L294.0,255.68 L295.0,255.98 L296.0,256.28 L297.0,256.58 L298.0,256.88 L299.0,257.19 L300.0,257.49 L301.0,257.79 L302.0,258.09 L303.0,258.39 L304.0,258.69 L305.0,259.00 L306.0,259.30 L307.0,259.60 L308.0,259.90 L309.0,260.20 L310.0,260.51 L311.0,260.81 L312.0,261.11 L313.0,261.41 L314.0,261.70 L315.0,262.00 L316.0,262.30 L317.0,262.59 L318.0,262.89 L319.0,263.18 L320.0,263.47 L321.0,263.76 L322.0,264.05 L323.0,264.33 L324.0,264.62 L325.0,264.90 L326.0,265.19 L327.0,265.47 L328.0,265.75 L329.0,266.03 L330.0,266.32 L331.0,266.60 L332.0,266.88 L333.0,267.16 L334.0,267.44 L335.0,267.72 L336.0,268.00 L337.0,268.28 L338.0,268.56 L339.0,268.84 L340.0,269.12 L341.0,269.40 L342.0,269.68 L343.0,269.96 L344.0,270.25 L345.0,270.53 L346.0,270.81 L347.0,271.09 L348.0,271.38 L349.0,271.66 L350.0,271.94 L351.0,272.22 L352.0,272.51 L353.0,272.79 L354.0,273.07 L355.0,273.35 L356.0,273.62 L357.0,273.90 L358.0,274.18 L359.0,274.45 L360.0,274.72 L361.0,274.99 L362.0,275.26 L363.0,275.53 L364.0,275.80 L365.0,276.06 L366.0,276.32 L367.0,276.58 L368.0,276.84 L369.0,277.09 L370.0,277.34 L371.0,277.60 L372.0,277.85 L373.0,278.09 L374.0,278.34 L375.0,278.58 L376.0,278.83 L377.0,279.07 L378.0,279.31 L379.0,279.55 L380.0,279.79 L381.0,280.02 L382.0,280.26 L383.0,280.49 L384.0,280.72 L385.0,280.96 L386.0,281.19 L387.0,281.42 L388.0,281.65 L389.0,281.88 L390.0,282.10 L391.0,282.33 L392.0,282.56 L393.0,282.78 L394.0,283.01 L395.0,283.24 L396.0,283.46 L397.0,283.69 L398.0,283.91 L399.0,284.14 L400.0,284.36 L401.0,284.58 L402.0,284.81 L403.0,285.03 L404.0,285.26 L405.0,285.48 L406.0,285.71 L407.0,285.94 L408.0,286.16 L409.0,286.39 L410.0,286.62 L411.0,286.84 L412.0,287.07 L413.0,287.30 L414.0,287.53 L415.0,287.76 L416.0,287.99 L417.0,288.23 L418.0,288.46" stroke="#0ea80e" stroke-width="1.5"/>
<path d="M59.0,208.66 L60.0,208.68 L61.0,208.71 L62.0,208.73 L63.0,208.76 L64.0,208.78 L65.0,208.81 L66.0,208.83 L67.0,208.86 L68.0,208.89 L69.0,208.92 L70.0,208.95 L71.0,208.98 L72.0,209.01 L73.0,209.04 L74.0,209.07 L75.0,209.10 L76.0,209.13 L77.0,209.17 L78.0,209.20 L79.0,209.24 L80.0,209.28 L81.0,209.32 L82.0,209.35 L83.0,209.40 L84.0,209.44 L85.0,209.48 L86.0,209.52 L87.0,209.57 L88.0,209.62 L89.0,209.66 L90.0,209.71 L91.0,209.76 L92.0,209.82 L93.0,209.87 L94.0,209.92 L95.0,209.98 L96.0,210.04 L97.0,210.10 L98.0,210.16 L99.0,210.22 L100.0,210.29 L101.0,210.36 L102.0,210.43 L103.0,210.50 L104.0,210.57 L105.0,210.64 L106.0,210.72 L107.0,210.80 L108.0,210.88 L109.0,210.96 L110.0,211.04 L111.0,211.13 L112.0,211.22 L113.0,211.31 L114.0,211.40 L115.0,211.50 L116.0,211.60 L117.0,211.70 L118.0,211.80 L119.0,211.90 L120.0,212.01 L121.0,212.12 L122.0,212.23 L123.0,212.35 L124.0,212.46 L125.0,212.58 L126.0,212.71 L127.0,212.83 L128.0,212.96 L129.0,213.09 L130.0,213.23 L131.0,213.36 L132.0,213.50 L133.0,213.65 L134.0,213.79 L135.0,213.94 L136.0,214.09 L137.0,214.25 L138.0,214.40 L139.0,214.56 L140.0,214.73 L141.0,214.89 L142.0,215.07 L143.0,215.24 L144.0,215.42 L145.0,215.60 L146.0,215.78 L147.0,215.97 L148.0,216.16 L149.0,216.35 L150.0,216.54 L151.0,216.74 L152.0,216.94 L153.0,217.13 L154.0,217.33 L155.0,217.53 L156.0,217.73 L157.0,217.93 L158.0,218.13 L159.0,218.33 L160.0,218.53 L161.0,218.73 L162.0,218.92 L163.0,219.12 L164.0,219.31 L165.0,219.51 L166.0,219.70 L167.0,219.89 L168.0,220.08 L169.0,220.28 L170.0,220.47 L171.0,220.66 L172.0,220.85 L173.0,221.04 L174.0,221.23 L175.0,221.42 L176.0,221.61 L177.0,221.80 L178.0,221.98 L179.0,222.17 L180.0,222.36 L181.0,222.55 L182.0,222.74 L183.0,222.92 L184.0,223.11 L185.0,223.30 L186.0,223.49 L187.0,223.67 L188.0,223.86 L189.0,224.05 L190.0,224.24 L191.0,224.42 L192.0,224.61 L193.0,224.80 L194.0,224.99 L195.0,225.17 L196.0,225.36 L197.0,225.55 L198.0,225.74 L199.0,225.92 L200.0,226.11 L201.0,226.30 L202.0,226.49 L203.0,226.68 L204.0,226.87 L205.0,227.05 L206.0,227.24 L207.0,227.43 L208.0,227.62 L209.0,227.82 L210.0,228.01 L211.0,228.21 L212.0,228.42 L213.0,228.62 L214.0,228.83 L215.0,229.05 L216.0,229.27 L217.0,229.50 L218.0,229.74 L219.0,229.98 L220.0,230.23 L221.0,230.48 L222.0,230.74 L223.0,231.01 L224.0,231.29 L225.0,231.57 L226.0,231.86 L227.0,232.16 L228.0,232.46 L229.0,232.77 L230.0,233.08 L231.0,233.40 L232.0,233.71 L233.0,234.03 L234.0,234.35 L235.0,234.67 L236.0,234.98 L237.0,235.29 L238.0,235.60 L239.0,235.91 L240.0,236.21 L241.0,236.51 L242.0,236.80 L243.0,237.09 L244.0,237.37 L245.0,237.65 L246.0,237.93 L247.0,238.21 L248.0,238.49 L249.0,238.76 L250.0,239.03 L251.0,239.30 L252.0,239.56 L253.0,239.83 L254.0,240.09 L255.0,240.36 L256.0,240.62 L257.0,240.89 L258.0,241.15 L259.0,241.42 L260.0,241.68 L261.0,241.95 L262.0,242.21 L263.0,242.48 L264.0,242.75 L265.0,243.02 L266.0,243.29 L267.0,243.56 L268.0,243.83 L269.0,244.10 L270.0,244.37 L271.0,244.64 L272.0,244.92 L273.0,245.19 L274.0,245.46 L275.0,245.73 L276.0,246.00 L277.0,246.27 L278.0,246.54 L279.0,246.80 L280.0,247.07 L281.0,247.34 L282.0,247.60 L283.0,247.86 L284.0,248.12 L285.0,248.38 L286.0,248.64 L287.0,248.90 L288.0,249.15 L289.0,249.41 L290.0,249.66 L291.0,249.91 L292.0,250.16 L293.0,250.41 L294.0,250.66 L295.0,250.91 L296.0,251.16 L297.0,251.40 L298.0,251.65 L299.0,251.90 L300.0,252.15 L301.0,252.40 L302.0,252.65 L303.0,252.90 L304.0,253.15 L305.0,253.41 L306.0,253.66 L307.0,253.92 L308.0,254.17 L309.0,254.43 L310.0,254.69 L311.0,254.95 L312.0,255.21 L313.0,255.47 L314.0,255.73 L315.0,256.00 L316.0,256.26 L317.0,256.53 L318.0,256.79 L319.0,257.06 L320.0,257.33 L321.0,257.59 L322.0,257.86 L323.0,258.13 L324.0,258.40 L325.0,258.67 L326.0,258.94 L327.0,259.21 L328.0,259.49 L329.0,259.76 L330.0,260.03 L331.0,260.30 L332.0,260.57 L333.0,260.85 L334.0,261.12 L335.0,261.39 L336.0,261.67 L337.0,261.94 L338.0,262.21 L339.0,262.49 L340.0,262.76 L341.0,263.03 L342.0,263.31 L343.0,263.58 L344.0,263.85 L345.0,264.12 L346.0,264.39 L347.0,264.67 L348.0,264.94 L349.0,265.21 L350.0,265.48 L351.0,265.75 L352.0,266.02 L353.0,266.29 L354.0,266.55 L355.0,266.82 L356.0,267.09 L357.0,267.35 L358.0,267.62 L359.0,267.88 L360.0,268.15 L361.0,268.41 L362.0,268.67 L363.0,268.93 L364.0,269.19 L365.0,269.45 L366.0,269.71 L367.0,269.97 L368.0,270.22 L369.0,270.48 L370.0,270.73 L371.0,270.99 L372.0,271.24 L373.0,271.49 L374.0,271.74 L375.0,271.99 L376.0,272.24 L377.0,272.49 L378.0,272.74 L379.0,272.98 L380.0,273.23 L381.0,273.48 L382.0,273.72 L383.0,273.97 L384.0,274.21 L385.0,274.46 L386.0,274.70 L387.0,274.95 L388.0,275.19 L389.0,275.43 L390.0,275.68 L391.0,275.92 L392.0,276.16 L393.0,276.41 L394.0,276.65 L395.0,276.89 L396.0,277.13 L397.0,277.38 L398.0,277.62 L399.0,277.86 L400.0,278.11 L401.0,278.35 L402.0,278.59 L403.0,278.84 L404.0,279.08 L405.0,279.32 L406.0,279.57 L407.0,279.81 L408.0,280.06 L409.0,280.31 L410.0,280.55 L411.0,280.80 L412.0,281.05 L413.0,281.29 L414.0,281.54 L415.0,281.79 L416.0,282.04 L417.0,282.29 L418.0,282.54" stroke="#ffa61e" stroke-width="1.5"/>
<path d="M59.0,148.59 L60.0,148.94 L61.0,149.29 L62.0,149.66 L63.0,150.03 L64.0,150.41 L65.0,150.80 L66.0,151.20 L67.0,151.61 L68.0,152.03 L69.0,152.45 L70.0,152.89 L71.0,153.33 L72.0,153.78 L73.0,154.24 L74.0,154.70 L75.0,155.17 L76.0,155.65 L77.0,156.14 L78.0,156.64 L79.0,157.14 L80.0,157.65 L81.0,158.17 L82.0,158.69 L83.0,159.22 L84.0,159.76 L85.0,160.30 L86.0,160.85 L87.0,161.41 L88.0,161.97 L89.0,162.54 L90.0,163.11 L91.0,163.69 L92.0,164.28 L93.0,164.87 L94.0,165.47 L95.0,166.07 L96.0,166.68 L97.0,167.30 L98.0,167.92 L99.0,168.54 L100.0,169.17 L101.0,169.80 L102.0,170.44 L103.0,171.08 L104.0,171.73 L105.0,172.38 L106.0,173.04 L107.0,173.70 L108.0,174.36 L109.0,175.03 L110.0,175.70 L111.0,176.38 L112.0,177.06 L113.0,177.74 L114.0,178.43 L115.0,179.12 L116.0,179.81 L117.0,180.51 L118.0,181.21 L119.0,181.91 L120.0,182.61 L121.0,183.32 L122.0,184.03 L123.0,184.74 L124.0,185.45 L125.0,186.17 L126.0,186.89 L127.0,187.61 L128.0,188.33 L129.0,189.05 L130.0,189.78 L131.0,190.50 L132.0,191.23 L133.0,191.96 L134.0,192.69 L135.0,193.42 L136.0,194.16 L137.0,194.89 L138.0,195.62 L139.0,196.36 L140.0,197.09 L141.0,197.83 L142.0,198.56 L143.0,199.30 L144.0,200.03 L145.0,200.77 L146.0,201.51 L147.0,202.24 L148.0,202.98 L149.0,203.71 L150.0,204.45 L151.0,205.19 L152.0,205.93 L153.0,206.67 L154.0,207.42 L155.0,208.16 L156.0,208.91 L157.0,209.66 L158.0,210.42 L159.0,211.18 L160.0,211.94 L161.0,212.70 L162.0,213.47 L163.0,214.25 L164.0,215.03 L165.0,215.81 L166.0,216.60 L167.0,217.39 L168.0,218.19 L169.0,219.00 L170.0,219.81 L171.0,220.63 L172.0,221.45 L173.0,222.27 L174.0,223.10 L175.0,223.93 L176.0,224.76 L177.0,225.59 L178.0,226.42 L179.0,227.25 L180.0,228.07 L181.0,228.90 L182.0,229.72 L183.0,230.55 L184.0,231.36 L185.0,232.17 L186.0,232.98 L187.0,233.78 L188.0,234.57 L189.0,235.36 L190.0,236.14 L191.0,236.91 L192.0,237.67 L193.0,238.42 L194.0,239.17 L195.0,239.91 L196.0,240.64 L197.0,241.36 L198.0,242.08 L199.0,242.80 L200.0,243.51 L201.0,244.22 L202.0,244.92 L203.0,245.62 L204.0,246.31 L205.0,247.01 L206.0,247.70 L207.0,248.39 L208.0,249.07 L209.0,249.76 L210.0,250.45 L211.0,251.13 L212.0,251.82 L213.0,252.51 L214.0,253.20 L215.0,253.89 L216.0,254.58 L217.0,255.28 L218.0,255.98 L219.0,256.68 L220.0,257.39 L221.0,258.10 L222.0,258.81 L223.0,259.53 L224.0,260.26 L225.0,260.99 L226.0,261.73 L227.0,262.48 L228.0,263.23 L229.0,263.99 L230.0,264.75 L231.0,265.52 L232.0,266.29 L233.0,267.06 L234.0,267.84 L235.0,268.61 L236.0,269.38 L237.0,270.16 L238.0,270.92 L239.0,271.69 L240.0,272.45 L241.0,273.21 L242.0,273.96 L243.0,274.70 L244.0,275.43 L245.0,276.16 L246.0,276.87 L247.0,277.58 L248.0,278.27 L249.0,278.95 L250.0,279.61 L251.0,280.26 L252.0,280.90 L253.0,281.51 L254.0,282.11 L255.0,282.70 L256.0,283.26 L257.0,283.80 L258.0,284.32 L259.0,284.81 L260.0,285.29 L261.0,285.74 L262.0,286.16 L263.0,286.56 L264.0,286.95 L265.0,287.32 L266.0,287.68 L267.0,288.03 L268.0,288.37 L269.0,288.71 L270.0,289.03 L271.0,289.35 L272.0,289.66 L273.0,289.96 L274.0,290.25 L275.0,290.53 L276.0,290.80 L277.0,291.06 L278.0,291.31 L279.0,291.54 L280.0,291.75 L281.0,291.94 L282.0,292.09 L283.0,292.22 L284.0,292.31 L285.0,292.37 L286.0,292.39 L287.0,292.36 L288.0,292.29 L289.0,292.18 L290.0,292.04 L291.0,291.85 L292.0,291.64 L293.0,291.40 L294.0,291.12 L295.0,290.82 L296.0,290.50 L297.0,290.16 L298.0,289.79 L299.0,289.42 L300.0,289.03 L301.0,288.64 L302.0,288.26 L303.0,287.87 L304.0,287.50 L305.0,287.15 L306.0,286.81 L307.0,286.50 L308.0,286.21 L309.0,285.95 L310.0,285.72 L311.0,285.51 L312.0,285.32 L313.0,285.16 L314.0,285.02 L315.0,284.89 L316.0,284.79 L317.0,284.70 L318.0,284.63 L319.0,284.58 L320.0,284.55 L321.0,284.53 L322.0,284.53 L323.0,284.54 L324.0,284.56 L325.0,284.59 L326.0,284.64 L327.0,284.70 L328.0,284.77 L329.0,284.85 L330.0,284.94 L331.0,285.03 L332.0,285.14 L333.0,285.25 L334.0,285.37 L335.0,285.49 L336.0,285.61 L337.0,285.75 L338.0,285.88 L339.0,286.02 L340.0,286.17 L341.0,286.31 L342.0,286.47 L343.0,286.62 L344.0,286.77 L345.0,286.93 L346.0,287.09 L347.0,287.25 L348.0,287.42 L349.0,287.58 L350.0,287.74 L351.0,287.91 L352.0,288.07 L353.0,288.23 L354.0,288.40 L355.0,288.56 L356.0,288.72 L357.0,288.88 L358.0,289.04 L359.0,289.19 L360.0,289.35 L361.0,289.51 L362.0,289.66 L363.0,289.82 L364.0,289.97 L365.0,290.13 L366.0,290.28 L367.0,290.43 L368.0,290.59 L369.0,290.74 L370.0,290.89 L371.0,291.04 L372.0,291.19 L373.0,291.34 L374.0,291.49 L375.0,291.64 L376.0,291.79 L377.0,291.94 L378.0,292.09 L379.0,292.23 L380.0,292.38 L381.0,292.53 L382.0,292.68 L383.0,292.82 L384.0,292.97 L385.0,293.12 L386.0,293.26 L387.0,293.41 L388.0,293.56 L389.0,293.70 L390.0,293.85 L391.0,294.00 L392.0,294.14 L393.0,294.29 L394.0,294.44 L395.0,294.58 L396.0,294.73 L397.0,294.88 L398.0,295.03 L399.0,295.17 L400.0,295.32 L401.0,295.47 L402.0,295.62 L403.0,295.76 L404.0,295.91 L405.0,296.06 L406.0,296.21 L407.0,296.36 L408.0,296.51 L409.0,296.66 L410.0,296.81 L411.0,296.97 L412.0,297.12 L413.0,297.27 L414.0,297.42 L415.0,297.58 L416.0,297.73 L417.0,297.89 L418.0,298.04" stroke="#000000" stroke-width="1.0"/>
</g>
<line x1="60.33" y1="11.5" x2="418.5" y2="11.5" stroke="#000" stroke-width="1" stroke-dasharray="1.4 4.27"/>
<line x1="60.31999999999999" y1="208.95" x2="306" y2="208.95" stroke="#000" stroke-width="1" stroke-dasharray="1.4 4.27"/>
<line x1="411.86" y1="208.95" x2="418.5" y2="208.95" stroke="#000" stroke-width="1" stroke-dasharray="1.4 4.27"/>
<rect x="59.0" y="5.5" width="359.5" height="94.95" fill="none" stroke="#000" stroke-width="1.0"/>
<path d="M76.975,100.45v-2.25M76.975,5.5v2.25M94.95,100.45v-2.25M94.95,5.5v2.25M112.92500000000001,100.45v-2.25M112.92500000000001,5.5v2.25M130.9,100.45v-2.25M130.9,5.5v2.25M148.875,100.45v-4.5M148.875,5.5v4.5M166.85000000000002,100.45v-2.25M166.85000000000002,5.5v2.25M184.82500000000002,100.45v-2.25M184.82500000000002,5.5v2.25M202.8,100.45v-2.25M202.8,5.5v2.25M220.775,100.45v-2.25M220.775,5.5v2.25M238.75,100.45v-4.5M238.75,5.5v4.5M256.725,100.45v-2.25M256.725,5.5v2.25M274.70000000000005,100.45v-2.25M274.70000000000005,5.5v2.25M292.675,100.45v-2.25M292.675,5.5v2.25M310.65000000000003,100.45v-2.25M310.65000000000003,5.5v2.25M328.625,100.45v-4.5M328.625,5.5v4.5M346.6,100.45v-2.25M346.6,5.5v2.25M364.57500000000005,100.45v-2.25M364.57500000000005,5.5v2.25M382.55,100.45v-2.25M382.55,5.5v2.25M400.52500000000003,100.45v-2.25M400.52500000000003,5.5v2.25M59.0,11.5h4.5M418.5,11.5h-4.5M59.0,56.4h4.5M418.5,56.4h-4.5" stroke="#000" stroke-width="1.0" fill="none"/>
<rect x="59.0" y="112.0" width="359.5" height="223.89999999999998" fill="none" stroke="#000" stroke-width="1.0"/>
<path d="M76.975,335.9v-2.25M76.975,112.0v2.25M94.95,335.9v-2.25M94.95,112.0v2.25M112.92500000000001,335.9v-2.25M112.92500000000001,112.0v2.25M130.9,335.9v-2.25M130.9,112.0v2.25M148.875,335.9v-4.5M148.875,112.0v4.5M166.85000000000002,335.9v-2.25M166.85000000000002,112.0v2.25M184.82500000000002,335.9v-2.25M184.82500000000002,112.0v2.25M202.8,335.9v-2.25M202.8,112.0v2.25M220.775,335.9v-2.25M220.775,112.0v2.25M238.75,335.9v-4.5M238.75,112.0v4.5M256.725,335.9v-2.25M256.725,112.0v2.25M274.70000000000005,335.9v-2.25M274.70000000000005,112.0v2.25M292.675,335.9v-2.25M292.675,112.0v2.25M310.65000000000003,335.9v-2.25M310.65000000000003,112.0v2.25M328.625,335.9v-4.5M328.625,112.0v4.5M346.6,335.9v-2.25M346.6,112.0v2.25M364.57500000000005,335.9v-2.25M364.57500000000005,112.0v2.25M382.55,335.9v-2.25M382.55,112.0v2.25M400.52500000000003,335.9v-2.25M400.52500000000003,112.0v2.25M59.0,118.02499999999998h4.5M418.5,118.02499999999998h-4.5M59.0,148.25h4.5M418.5,148.25h-4.5M59.0,178.475h4.5M418.5,178.475h-4.5M59.0,208.7h4.5M418.5,208.7h-4.5M59.0,238.92499999999998h4.5M418.5,238.92499999999998h-4.5M59.0,269.15h4.5M418.5,269.15h-4.5M59.0,299.375h4.5M418.5,299.375h-4.5M59.0,329.6h4.5M418.5,329.6h-4.5" stroke="#000" stroke-width="1.0" fill="none"/>
<text x="51" y="16.14" font-size="17.0" text-anchor="end" >3</text>
<text x="51.8" y="62.44" font-size="17.0" text-anchor="end" >1.5</text>
<text x="51" y="106.03999999999999" font-size="17.0" text-anchor="end" >0</text>
<text x="52.3" y="123.46499999999997" font-size="17.0" text-anchor="end" >1.5</text>
<text x="51.4" y="153.29" font-size="17.0" text-anchor="end" >1</text>
<text x="52.3" y="183.515" font-size="17.0" text-anchor="end" >0.5</text>
<text x="51.4" y="214.14" font-size="17.0" text-anchor="end" >0</text>
<text x="56.3" y="244.56499999999997" font-size="17.0" text-anchor="end" ><tspan dy="1">−</tspan><tspan dy="-1">0.5</tspan></text>
<text x="55.6" y="274.59" font-size="17.0" text-anchor="end" ><tspan dy="1">−</tspan><tspan dy="-1">1</tspan></text>
<text x="56.3" y="304.815" font-size="17.0" text-anchor="end" ><tspan dy="1">−</tspan><tspan dy="-1">1.5</tspan></text>
<text x="55.4" y="335.04" font-size="17.0" text-anchor="end" ><tspan dy="1">−</tspan><tspan dy="-1">2</tspan></text>
<text x="62" y="356.5" font-size="17.0" text-anchor="middle" >0</text>
<text x="152" y="356.5" font-size="17.0" text-anchor="middle" >5</text>
<text x="242" y="356.5" font-size="17.0" text-anchor="middle" >10</text>
<text x="332" y="356.5" font-size="17.0" text-anchor="middle" >15</text>
<text x="421.3" y="356.5" font-size="17.0" text-anchor="middle" >20</text>
<text x="350.7" y="137.04" font-size="17.0" text-anchor="end" >0 K</text>
<line x1="356" y1="132.0" x2="400" y2="132.0" stroke="#000000" stroke-width="1.0"/>
<text x="350.7" y="152.42" font-size="17.0" text-anchor="end" >2 K</text>
<line x1="357" y1="146.35" x2="401" y2="146.35" stroke="#ee00a6" stroke-width="1.5"/>
<text x="350.7" y="167.79999999999998" font-size="17.0" text-anchor="end" >4 K</text>
<line x1="357" y1="161.7" x2="401" y2="161.7" stroke="#a31cf2" stroke-width="1.5"/>
<text x="350.7" y="183.17999999999998" font-size="17.0" text-anchor="end" >6 K</text>
<line x1="357" y1="177.3" x2="401" y2="177.3" stroke="#2e00e6" stroke-width="1.5"/>
<text x="350.7" y="198.56" font-size="17.0" text-anchor="end" >8 K</text>
<line x1="357" y1="192.85" x2="401" y2="192.85" stroke="#1f63f5" stroke-width="1.5"/>
<text x="350.7" y="213.94" font-size="17.0" text-anchor="end" >10 K</text>
<line x1="357" y1="208.25" x2="401" y2="208.25" stroke="#0ea80e" stroke-width="1.5"/>
<text x="350.7" y="229.32" font-size="17.0" text-anchor="end" >12 K</text>
<line x1="357" y1="223.9" x2="401" y2="223.9" stroke="#ffa61e" stroke-width="1.5"/>
<text x="209.6" y="377.8" font-size="17.0">h<tspan font-size="13.600000000000001" dy="4.6" dx="-0.5">[100]</tspan><tspan dy="-4.6" dx="1.6">[T]</tspan></text>
<g transform="translate(18.1,74.1) rotate(-90)"><text x="0" y="0" font-size="17.0">m<tspan font-size="13.600000000000001" dy="4.6">[100]</tspan></text></g>
<g transform="translate(19.1,232.1) rotate(-90)"><text x="0" y="0" font-size="17.0">P</text><text x="10.6" y="-6.9" font-size="13.600000000000001">st</text><text x="10.6" y="5.1" font-size="13.600000000000001">z</text></g>
</svg></body></html>
